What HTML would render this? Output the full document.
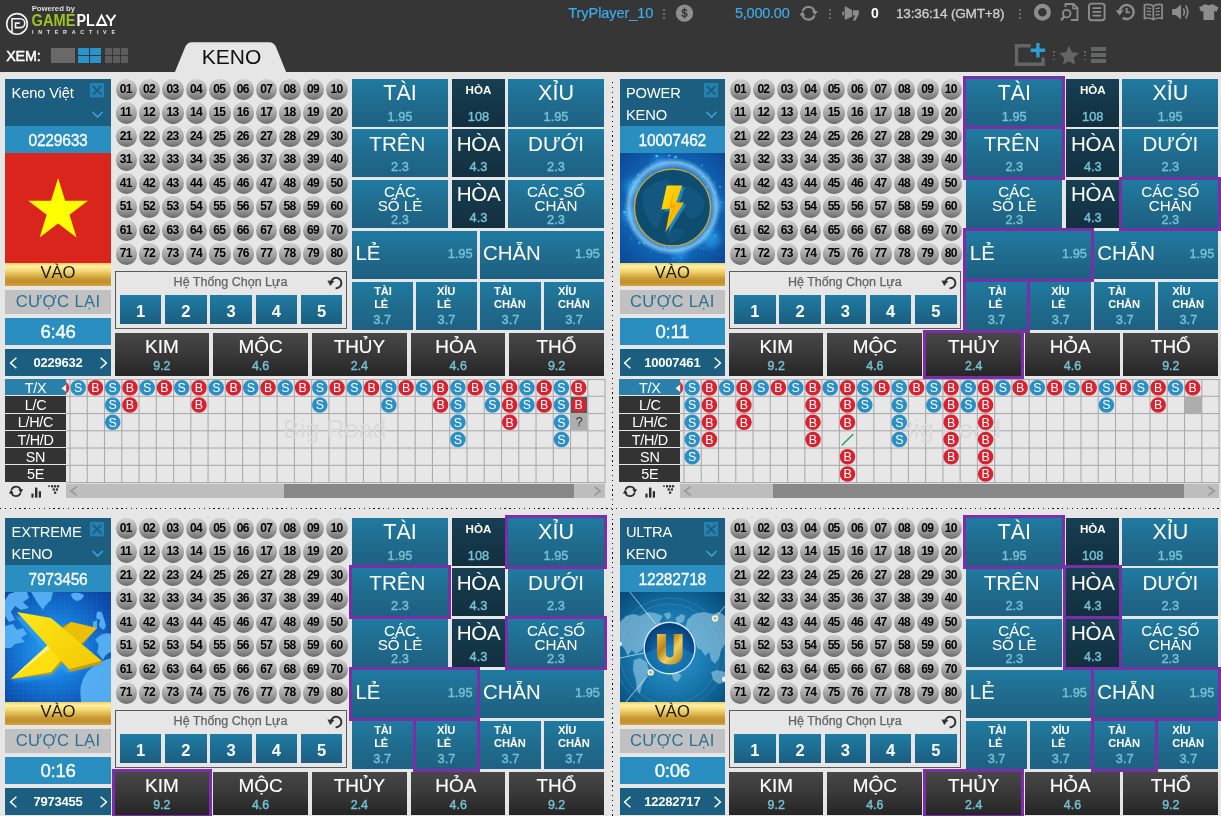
<!DOCTYPE html>
<html><head><meta charset="utf-8"><title>Keno</title><style>
*{box-sizing:border-box;margin:0;padding:0}
html,body{width:1221px;height:816px;overflow:hidden;background:#e6e6e6;font-family:"Liberation Sans",sans-serif;}
body{position:relative}
.a{position:absolute}
#hdr{position:absolute;left:0;top:0;width:1221px;height:72px;background:#363636}
.t{position:absolute;white-space:nowrap;line-height:1}
.pn{position:absolute;left:0;top:0;width:0;height:0}
.lt{background:#1b5e7f}
.nm{background:#2a8fc0;color:#fff;text-align:center}
.vao{background:linear-gradient(#f3cf5e 0%,#fdf0a8 14%,#f5d873 34%,#c99a34 68%,#c28f2c 84%,#d2a440 100%);color:#1a1a1a;text-align:center}
.cuoc{background:#c1c1c1;color:#2b7195;text-align:center}
.ball{position:absolute;width:21.4px;height:21.4px;border-radius:50%;background:radial-gradient(circle at 50% 50%,rgba(0,0,0,0) 55%,rgba(0,0,0,0.10) 100%),linear-gradient(#d4d4d4 0%,#c4c4c4 18%,#a6a6a6 52%,#858585 80%,#6c6c6c 100%);color:#000;font-weight:bold;font-size:12px;line-height:21.6px;text-align:center;letter-spacing:-0.7px;text-indent:-1.1px}
.bet{position:absolute;background:linear-gradient(#1f7ba1,#206c8e 50%,#1d6082);color:#fff;text-align:center}
.bet.dk{background:linear-gradient(#173f53,#122f3e)}
.sel{box-shadow:0 0 0 3px #7b2ea7}
.od{color:#76c1d5}
.ods{-webkit-text-stroke:0.4px #76c1d5}
.el{position:absolute;background:linear-gradient(#474747,#3a3a3a 45%,#252525);color:#fff;text-align:center}
.sb{position:absolute;background:linear-gradient(#1f7ca3,#1b5d80);color:#fff;font-weight:bold;text-align:center}
.rl{position:absolute;background:#333;color:#fff;text-align:center;font-size:14px;}
.c{position:absolute;width:15px;height:15px;border-radius:50%;color:#fff;font-size:11.5px;line-height:15px;text-align:center}
.cs{background:#2a8fc6}
.cb{background:#d9222f}
</style></head><body><div id="root" style="position:absolute;left:0;top:0;width:1221px;height:816px;overflow:hidden;will-change:transform">
<div id="hdr"></div>
<svg class="a" style="left:5px;top:3px" width="115" height="34" viewBox="0 0 115 34">
<circle cx="12" cy="20.9" r="10.3" fill="none" stroke="#f2f2f2" stroke-width="1.6"/>
<path d="M7 29 V15.8 H15.4 A4.4 4.4 0 0 1 15.4 24.6 H10.5 V20.1 H14.8" fill="none" stroke="#f2f2f2" stroke-width="1.6"/>
</svg>
<svg class="a" style="left:30px;top:0px" width="90" height="38" viewBox="0 0 90 38" font-family="Liberation Sans">
<text x="1.7" y="10.6" font-size="7.6" font-weight="bold" fill="#dedede" textLength="43.3" lengthAdjust="spacingAndGlyphs" stroke="#363636" stroke-width="0.25" paint-order="stroke">Powered by</text>
<text x="1.6" y="26.1" font-size="16" font-weight="bold" fill="#9fc41f" textLength="43.8" lengthAdjust="spacingAndGlyphs" stroke="#363636" stroke-width="0.5" paint-order="stroke">GAME</text>
<text x="46.6" y="26.1" font-size="16" font-weight="bold" fill="#fff" textLength="18.2" lengthAdjust="spacingAndGlyphs" stroke="#363636" stroke-width="0.5" paint-order="stroke">PL</text>
<path d="M67 25 L71.6 15.6 L76.2 25 Z" fill="none" stroke="#fff" stroke-width="1.9"/>
<path d="M76.4 14.8 L80.9 21 L85.4 14.8 M80.9 20.6 V26.1" fill="none" stroke="#fff" stroke-width="2"/>
<text x="2" y="33.5" font-size="5.4" font-weight="bold" fill="#e4e4e4" textLength="83" lengthAdjust="spacing">INTERACTIVE</text>
</svg>
<div class="t" style="top:49.10px;font-size:14.3px;color:#fff;left:6.20px;-webkit-text-stroke:0.45px #fff;letter-spacing:-0.1px;">XEM:</div>
<div class="a" style="left:51.00px;top:48.00px;width:23.50px;height:15.00px;background:#696969"></div>
<div class="a" style="left:78.00px;top:48.00px;width:11.20px;height:7.00px;background:#2a92cc"></div>
<div class="a" style="left:78.00px;top:55.70px;width:11.20px;height:7.00px;background:#2a92cc"></div>
<div class="a" style="left:90.00px;top:48.00px;width:11.20px;height:7.00px;background:#2a92cc"></div>
<div class="a" style="left:90.00px;top:55.70px;width:11.20px;height:7.00px;background:#2a92cc"></div>
<div class="a" style="left:105.00px;top:48.00px;width:7.30px;height:7.00px;background:#5c5c5c"></div>
<div class="a" style="left:105.00px;top:55.70px;width:7.30px;height:7.00px;background:#5c5c5c"></div>
<div class="a" style="left:113.00px;top:48.00px;width:7.30px;height:7.00px;background:#5c5c5c"></div>
<div class="a" style="left:113.00px;top:55.70px;width:7.30px;height:7.00px;background:#5c5c5c"></div>
<div class="a" style="left:121.00px;top:48.00px;width:7.30px;height:7.00px;background:#5c5c5c"></div>
<div class="a" style="left:121.00px;top:55.70px;width:7.30px;height:7.00px;background:#5c5c5c"></div>
<svg class="a" style="left:170px;top:40px" width="122" height="33" viewBox="0 0 122 33"><path d="M4.5 33 L15.2 7 Q17.2 2.3 22 2.3 L99 2.3 Q104 2.3 106 7 L116.5 33 Z" fill="#e6e6e6"/></svg>
<div class="t" style="top:45.92px;font-size:21px;color:#111;left:31.50px;width:400px;text-align:center;">KENO</div>
<div class="t" style="top:6.03px;font-size:14.5px;color:#3cacea;left:568.30px;letter-spacing:-0.05px;-webkit-text-stroke:0.2px #3cacea;">TryPlayer_10</div>
<div class="a" style="left:663.20px;top:9.30px;width:1.70px;height:1.70px;background:#6a6a6a"></div>
<div class="a" style="left:663.20px;top:13.10px;width:1.70px;height:1.70px;background:#6a6a6a"></div>
<div class="a" style="left:663.20px;top:16.90px;width:1.70px;height:1.70px;background:#6a6a6a"></div>
<svg class="a" style="left:675px;top:4px" width="19" height="19" viewBox="0 0 19 19"><circle cx="9.5" cy="9.2" r="8.6" fill="#8e8e8e"/><text x="9.5" y="13.2" font-family="Liberation Sans" font-weight="bold" font-size="10.5" fill="#363636" text-anchor="middle">S</text><path d="M9.5 3.6 V14.8" stroke="#363636" stroke-width="1.1"/></svg>
<div class="t" style="top:6.03px;font-size:14.5px;color:#3cacea;left:735.00px;letter-spacing:-0.25px;-webkit-text-stroke:0.2px #3cacea;">5,000.00</div>
<svg class="a" style="left:800px;top:5px" width="18" height="17" viewBox="0 0 18 17"><path d="M2.68 6.15 A6.3 6.3 0 0 1 14.76 6.99" fill="none" stroke="#8f8f8f" stroke-width="2.2"/><path d="M14.52 10.45 A6.3 6.3 0 0 1 2.44 9.61" fill="none" stroke="#8f8f8f" stroke-width="2.2"/><path d="M11.90 6.10 L17.90 6.10 L14.90 10.10 Z" fill="#8f8f8f"/><path d="M-0.70 10.50 L5.30 10.50 L2.30 6.50 Z" fill="#8f8f8f"/></svg>
<div class="a" style="left:828.90px;top:9.30px;width:1.70px;height:1.70px;background:#6a6a6a"></div>
<div class="a" style="left:828.90px;top:13.10px;width:1.70px;height:1.70px;background:#6a6a6a"></div>
<div class="a" style="left:828.90px;top:16.90px;width:1.70px;height:1.70px;background:#6a6a6a"></div>
<svg class="a" style="left:842px;top:5px" width="19" height="17" viewBox="0 0 19 17"><path d="M0.3 6.5 H2 V10.2 H0.3 Z M2.7 1.1 V15.1 L10.2 11.4 V5.2 Z M11 5.2 H16.8 V8.9 L13.5 15.5 H10.7 L13.2 10.6 H11 Z" fill="#8c8c8c"/></svg>
<div class="t" style="top:6.35px;font-size:14px;color:#fff;font-weight:bold;left:871.00px;">0</div>
<div class="t" style="top:6.69px;font-size:13.6px;color:#cfcfcf;left:896.00px;letter-spacing:-0.2px;-webkit-text-stroke:0.3px #cfcfcf;">13:36:14 (GMT+8)</div>
<div class="a" style="left:1019.20px;top:9.30px;width:1.70px;height:1.70px;background:#6a6a6a"></div>
<div class="a" style="left:1019.20px;top:13.10px;width:1.70px;height:1.70px;background:#6a6a6a"></div>
<div class="a" style="left:1019.20px;top:16.90px;width:1.70px;height:1.70px;background:#6a6a6a"></div>
<svg class="a" style="left:1033px;top:3.2px" width="19" height="19" viewBox="0 0 19 19"><circle cx="9.4" cy="9.3" r="6.4" fill="none" stroke="#8d8d8d" stroke-width="4.2"/></svg>
<svg class="a" style="left:1060px;top:2.3px" width="20" height="20" viewBox="0 0 20 20"><path d="M5.5 5 V2 H13.5 L17.5 6 V18 H11" fill="none" stroke="#8d8d8d" stroke-width="1.8"/><path d="M13 2 V6.5 H17.5" fill="none" stroke="#8d8d8d" stroke-width="1.5"/><circle cx="6.7" cy="11.6" r="3.8" fill="none" stroke="#8d8d8d" stroke-width="1.8"/><path d="M4.2 14.4 L1.2 18.2" stroke="#8d8d8d" stroke-width="2.2"/></svg>
<svg class="a" style="left:1087px;top:2.3px" width="20" height="20" viewBox="0 0 20 20"><rect x="2" y="1.6" width="15.6" height="16.6" rx="2.4" fill="none" stroke="#8d8d8d" stroke-width="1.9"/><path d="M5.5 6.2 H14.2 M5.5 9.9 H14.2 M5.5 13.6 H14.2" stroke="#8d8d8d" stroke-width="1.7"/></svg>
<svg class="a" style="left:1115px;top:2.3px" width="21" height="20" viewBox="0 0 21 20"><path d="M4.7 10 A7 7 0 1 1 7.6 15.7" fill="none" stroke="#8d8d8d" stroke-width="2.4"/><path d="M0.6 8.2 L8.6 8.2 L4.6 13.4 Z" fill="#8d8d8d"/><path d="M11.6 6 V10.4 H15" fill="none" stroke="#8d8d8d" stroke-width="1.9"/></svg>
<svg class="a" style="left:1143px;top:2.3px" width="21" height="20" viewBox="0 0 21 20"><path d="M10.3 4 Q6 1.6 1.5 2.8 V16.4 Q6 15.2 10.3 17.6 Q14.6 15.2 19.1 16.4 V2.8 Q14.6 1.6 10.3 4 Z M10.3 4 V17.6" fill="none" stroke="#8d8d8d" stroke-width="1.7"/><path d="M3.8 6.2 Q6 5.8 8 6.8 M3.8 9.4 Q6 9 8 10 M3.8 12.6 Q6 12.2 8 13.2 M12.6 6.8 Q14.6 5.8 16.8 6.2 M12.6 10 Q14.6 9 16.8 9.4 M12.6 13.2 Q14.6 12.2 16.8 12.6" fill="none" stroke="#8d8d8d" stroke-width="1.3"/></svg>
<svg class="a" style="left:1171px;top:2.3px" width="20" height="20" viewBox="0 0 20 20"><path d="M1.2 7 H4.8 L10 2.6 V17.4 L4.8 13 H1.2 Z" fill="#8d8d8d"/><path d="M12.2 6.4 Q14.6 10 12.2 13.6" fill="none" stroke="#8d8d8d" stroke-width="1.7"/><path d="M14.6 3.6 Q19 10 14.6 16.4" fill="none" stroke="#8d8d8d" stroke-width="1.7"/></svg>
<svg class="a" style="left:1198px;top:2.3px" width="22" height="20" viewBox="0 0 22 20"><path d="M7.4 2 Q10.8 4.6 14.2 2 L20.6 5.4 L18.4 9.8 L16.2 8.8 V18 H5.4 V8.8 L3.2 9.8 L1 5.4 Z" fill="#8d8d8d"/></svg>
<svg class="a" style="left:1014px;top:42px" width="33" height="25" viewBox="0 0 33 25"><path d="M16.75 3.8 H2.5 V22.3 H29.1 V15.6" fill="none" stroke="#646665" stroke-width="3.4"/><path d="M23.9 1 V15.5 M16.7 8.25 H31.1" stroke="#2c9fd6" stroke-width="3.3"/></svg>
<div class="a" style="left:1053.00px;top:51.00px;width:1.70px;height:1.70px;background:#666"></div>
<div class="a" style="left:1053.00px;top:54.80px;width:1.70px;height:1.70px;background:#666"></div>
<div class="a" style="left:1053.00px;top:58.60px;width:1.70px;height:1.70px;background:#666"></div>
<svg class="a" style="left:1058px;top:45px" width="22" height="20" viewBox="0 0 22 20"><path d="M11 0.8 L13.9 7.2 L20.9 8 L15.7 12.8 L17.1 19.6 L11 16.2 L4.9 19.6 L6.3 12.8 L1.1 8 L8.1 7.2 Z" fill="#646665"/></svg>
<div class="a" style="left:1083.90px;top:51.00px;width:1.70px;height:1.70px;background:#666"></div>
<div class="a" style="left:1083.90px;top:54.80px;width:1.70px;height:1.70px;background:#666"></div>
<div class="a" style="left:1083.90px;top:58.60px;width:1.70px;height:1.70px;background:#666"></div>
<div class="a" style="left:1091.20px;top:47.30px;width:15.00px;height:3.60px;background:#646665"></div>
<div class="a" style="left:1091.20px;top:53.20px;width:15.00px;height:3.60px;background:#646665"></div>
<div class="a" style="left:1091.20px;top:59.10px;width:15.00px;height:3.60px;background:#646665"></div>
<div class="a" style="left:0;top:507.7px;width:1221px;height:1.3px;background:repeating-linear-gradient(90deg,#111 0,#111 1.3px,transparent 1.3px,transparent 4.85px)"></div>
<div class="a" style="left:611.8px;top:81.5px;width:1.3px;height:740px;background:repeating-linear-gradient(180deg,#111 0,#111 1.3px,transparent 1.3px,transparent 4.85px)"></div>
<div class="pn" style="left:0px;top:0px">
<div class="a lt" style="left:5.00px;top:78.60px;width:105.60px;height:49.00px;"></div>
<div class="t" style="top:85.66px;font-size:14.7px;color:#fff;left:11.60px;letter-spacing:-0.15px;">Keno Việt</div>
<svg class="a" style="left:89.7px;top:83.3px" width="15" height="15" viewBox="0 0 15 15"><rect width="14" height="14.4" fill="#2681b0"/><path d="M2.8 3 L11.4 11.6 M11.4 3 L2.8 11.6" stroke="#1b5e7f" stroke-width="1.9"/></svg>
<svg class="a" style="left:91.5px;top:111px" width="12" height="8" viewBox="0 0 12 8"><path d="M0.6 1 L5.6 6 L10.6 1" fill="none" stroke="#3ba3dc" stroke-width="1.6"/></svg>
<div class="a nm" style="left:5.00px;top:126.20px;width:105.60px;height:27.30px;"></div>
<div class="t" style="top:132.79px;font-size:15.6px;color:#fff;left:-142.00px;width:400px;text-align:center;letter-spacing:-0.25px;-webkit-text-stroke:0.3px #fff;">0229633</div>
<svg class="a" style="left:5px;top:153px" width="106" height="110" viewBox="0 0 106 110"><rect width="106" height="110" fill="#da251d"/><polygon points="53.10,24.96 60.15,47.72 82.96,47.72 64.51,61.79 71.56,84.55 53.10,70.48 34.64,84.55 41.69,61.79 23.24,47.72 46.05,47.72" fill="#ffff00"/></svg>
<div class="a vao" style="left:5.00px;top:262.50px;width:105.60px;height:23.00px;"></div>
<div class="t" style="top:264.95px;font-size:16.6px;color:#1a1a1a;left:-142.00px;width:400px;text-align:center;">VÀO</div>
<div class="a cuoc" style="left:5.00px;top:290.00px;width:105.60px;height:23.50px;"></div>
<div class="t" style="top:293.55px;font-size:16.6px;color:#2b7195;left:-142.00px;width:400px;text-align:center;letter-spacing:0.35px;">CƯỢC LẠI</div>
<div class="a nm" style="left:5.00px;top:318.00px;width:105.60px;height:26.50px;"></div>
<div class="t" style="top:323.36px;font-size:18.6px;color:#fff;left:-142.00px;width:400px;text-align:center;letter-spacing:-0.3px;-webkit-text-stroke:0.35px #fff;">6:46</div>
<div class="a lt" style="left:5.00px;top:349.00px;width:105.60px;height:26.50px;"></div>
<div class="t" style="top:356.30px;font-size:13px;color:#fff;font-weight:bold;left:-142.00px;width:400px;text-align:center;letter-spacing:-0.2px;">0229632</div>
<svg class="a" style="left:9px;top:357px" width="9" height="12" viewBox="0 0 9 12"><path d="M7.4 0.8 L1.6 6 L7.4 11.2" fill="none" stroke="#fff" stroke-width="1.5"/></svg>
<svg class="a" style="left:98.5px;top:357px" width="9" height="12" viewBox="0 0 9 12"><path d="M1.6 0.8 L7.4 6 L1.6 11.2" fill="none" stroke="#fff" stroke-width="1.5"/></svg>
<div class="ball" style="left:115.50px;top:78.80px">01</div>
<div class="ball" style="left:138.92px;top:78.80px">02</div>
<div class="ball" style="left:162.34px;top:78.80px">03</div>
<div class="ball" style="left:185.76px;top:78.80px">04</div>
<div class="ball" style="left:209.18px;top:78.80px">05</div>
<div class="ball" style="left:232.60px;top:78.80px">06</div>
<div class="ball" style="left:256.02px;top:78.80px">07</div>
<div class="ball" style="left:279.44px;top:78.80px">08</div>
<div class="ball" style="left:302.86px;top:78.80px">09</div>
<div class="ball" style="left:326.28px;top:78.80px">10</div>
<div class="ball" style="left:115.50px;top:102.30px">11</div>
<div class="ball" style="left:138.92px;top:102.30px">12</div>
<div class="ball" style="left:162.34px;top:102.30px">13</div>
<div class="ball" style="left:185.76px;top:102.30px">14</div>
<div class="ball" style="left:209.18px;top:102.30px">15</div>
<div class="ball" style="left:232.60px;top:102.30px">16</div>
<div class="ball" style="left:256.02px;top:102.30px">17</div>
<div class="ball" style="left:279.44px;top:102.30px">18</div>
<div class="ball" style="left:302.86px;top:102.30px">19</div>
<div class="ball" style="left:326.28px;top:102.30px">20</div>
<div class="ball" style="left:115.50px;top:125.80px">21</div>
<div class="ball" style="left:138.92px;top:125.80px">22</div>
<div class="ball" style="left:162.34px;top:125.80px">23</div>
<div class="ball" style="left:185.76px;top:125.80px">24</div>
<div class="ball" style="left:209.18px;top:125.80px">25</div>
<div class="ball" style="left:232.60px;top:125.80px">26</div>
<div class="ball" style="left:256.02px;top:125.80px">27</div>
<div class="ball" style="left:279.44px;top:125.80px">28</div>
<div class="ball" style="left:302.86px;top:125.80px">29</div>
<div class="ball" style="left:326.28px;top:125.80px">30</div>
<div class="ball" style="left:115.50px;top:149.30px">31</div>
<div class="ball" style="left:138.92px;top:149.30px">32</div>
<div class="ball" style="left:162.34px;top:149.30px">33</div>
<div class="ball" style="left:185.76px;top:149.30px">34</div>
<div class="ball" style="left:209.18px;top:149.30px">35</div>
<div class="ball" style="left:232.60px;top:149.30px">36</div>
<div class="ball" style="left:256.02px;top:149.30px">37</div>
<div class="ball" style="left:279.44px;top:149.30px">38</div>
<div class="ball" style="left:302.86px;top:149.30px">39</div>
<div class="ball" style="left:326.28px;top:149.30px">40</div>
<div class="ball" style="left:115.50px;top:172.80px">41</div>
<div class="ball" style="left:138.92px;top:172.80px">42</div>
<div class="ball" style="left:162.34px;top:172.80px">43</div>
<div class="ball" style="left:185.76px;top:172.80px">44</div>
<div class="ball" style="left:209.18px;top:172.80px">45</div>
<div class="ball" style="left:232.60px;top:172.80px">46</div>
<div class="ball" style="left:256.02px;top:172.80px">47</div>
<div class="ball" style="left:279.44px;top:172.80px">48</div>
<div class="ball" style="left:302.86px;top:172.80px">49</div>
<div class="ball" style="left:326.28px;top:172.80px">50</div>
<div class="ball" style="left:115.50px;top:196.30px">51</div>
<div class="ball" style="left:138.92px;top:196.30px">52</div>
<div class="ball" style="left:162.34px;top:196.30px">53</div>
<div class="ball" style="left:185.76px;top:196.30px">54</div>
<div class="ball" style="left:209.18px;top:196.30px">55</div>
<div class="ball" style="left:232.60px;top:196.30px">56</div>
<div class="ball" style="left:256.02px;top:196.30px">57</div>
<div class="ball" style="left:279.44px;top:196.30px">58</div>
<div class="ball" style="left:302.86px;top:196.30px">59</div>
<div class="ball" style="left:326.28px;top:196.30px">60</div>
<div class="ball" style="left:115.50px;top:219.80px">61</div>
<div class="ball" style="left:138.92px;top:219.80px">62</div>
<div class="ball" style="left:162.34px;top:219.80px">63</div>
<div class="ball" style="left:185.76px;top:219.80px">64</div>
<div class="ball" style="left:209.18px;top:219.80px">65</div>
<div class="ball" style="left:232.60px;top:219.80px">66</div>
<div class="ball" style="left:256.02px;top:219.80px">67</div>
<div class="ball" style="left:279.44px;top:219.80px">68</div>
<div class="ball" style="left:302.86px;top:219.80px">69</div>
<div class="ball" style="left:326.28px;top:219.80px">70</div>
<div class="ball" style="left:115.50px;top:243.30px">71</div>
<div class="ball" style="left:138.92px;top:243.30px">72</div>
<div class="ball" style="left:162.34px;top:243.30px">73</div>
<div class="ball" style="left:185.76px;top:243.30px">74</div>
<div class="ball" style="left:209.18px;top:243.30px">75</div>
<div class="ball" style="left:232.60px;top:243.30px">76</div>
<div class="ball" style="left:256.02px;top:243.30px">77</div>
<div class="ball" style="left:279.44px;top:243.30px">78</div>
<div class="ball" style="left:302.86px;top:243.30px">79</div>
<div class="ball" style="left:326.28px;top:243.30px">80</div>
<div class="a" style="left:115.00px;top:271.00px;width:232.00px;height:57.50px;border:1px solid #5a5a5a;"></div>
<div class="t" style="top:275.62px;font-size:12.5px;color:#636363;left:30.50px;width:400px;text-align:center;-webkit-text-stroke:0.25px #636363;">Hệ Thống Chọn Lựa</div>
<svg class="a" style="left:327px;top:275.5px" width="16" height="14" viewBox="0 0 16 14"><path d="M4 6.6 A5.2 5.2 0 1 1 8.6 12.2" fill="none" stroke="#333" stroke-width="2"/><path d="M0.4 4.6 L7.4 5 L3.2 10 Z" fill="#333"/></svg>
<div class="sb" style="left:119.80px;top:295.00px;width:41.60px;height:29.00px;"></div>
<div class="t" style="top:303.23px;font-size:16.5px;color:#fff;font-weight:bold;left:-59.40px;width:400px;text-align:center;">1</div>
<div class="sb" style="left:165.05px;top:295.00px;width:41.60px;height:29.00px;"></div>
<div class="t" style="top:303.23px;font-size:16.5px;color:#fff;font-weight:bold;left:-14.15px;width:400px;text-align:center;">2</div>
<div class="sb" style="left:210.30px;top:295.00px;width:41.60px;height:29.00px;"></div>
<div class="t" style="top:303.23px;font-size:16.5px;color:#fff;font-weight:bold;left:31.10px;width:400px;text-align:center;">3</div>
<div class="sb" style="left:255.55px;top:295.00px;width:41.60px;height:29.00px;"></div>
<div class="t" style="top:303.23px;font-size:16.5px;color:#fff;font-weight:bold;left:76.35px;width:400px;text-align:center;">4</div>
<div class="sb" style="left:300.80px;top:295.00px;width:41.60px;height:29.00px;"></div>
<div class="t" style="top:303.23px;font-size:16.5px;color:#fff;font-weight:bold;left:121.60px;width:400px;text-align:center;">5</div>
<div class="bet" style="left:352.00px;top:79.00px;width:96.00px;height:47.50px;"></div>
<div class="t" style="top:82.80px;font-size:21.5px;color:#fff;left:200.00px;width:400px;text-align:center;z-index:3;">TÀI</div>
<div class="t ods" style="top:110.76px;font-size:12.8px;color:#76c1d5;left:200.00px;width:400px;text-align:center;z-index:3;">1.95</div>
<div class="bet dk" style="left:451.70px;top:79.00px;width:53.00px;height:47.50px;"></div>
<div class="t" style="top:83.58px;font-size:11.6px;color:#fff;font-weight:bold;left:278.50px;width:400px;text-align:center;z-index:3;">HÒA</div>
<div class="t ods" style="top:110.76px;font-size:12.8px;color:#76c1d5;left:278.50px;width:400px;text-align:center;z-index:3;">108</div>
<div class="bet" style="left:508.00px;top:79.00px;width:96.00px;height:47.50px;"></div>
<div class="t" style="top:82.80px;font-size:21.5px;color:#fff;left:356.00px;width:400px;text-align:center;z-index:3;">XỈU</div>
<div class="t ods" style="top:110.76px;font-size:12.8px;color:#76c1d5;left:356.00px;width:400px;text-align:center;z-index:3;">1.95</div>
<div class="bet" style="left:352.00px;top:129.30px;width:96.00px;height:47.50px;"></div>
<div class="t" style="top:133.66px;font-size:20.6px;color:#fff;left:197.40px;width:400px;text-align:center;z-index:3;">TRÊN</div>
<div class="t ods" style="top:161.06px;font-size:12.8px;color:#76c1d5;left:200.00px;width:400px;text-align:center;z-index:3;">2.3</div>
<div class="bet dk" style="left:451.70px;top:129.30px;width:53.00px;height:47.50px;"></div>
<div class="t" style="top:133.66px;font-size:20.6px;color:#fff;left:278.50px;width:400px;text-align:center;z-index:3;letter-spacing:-0.3px;">HÒA</div>
<div class="t ods" style="top:161.06px;font-size:12.8px;color:#76c1d5;left:278.50px;width:400px;text-align:center;z-index:3;">4.3</div>
<div class="bet" style="left:508.00px;top:129.30px;width:96.00px;height:47.50px;"></div>
<div class="t" style="top:133.66px;font-size:20.6px;color:#fff;left:356.00px;width:400px;text-align:center;z-index:3;">DƯỚI</div>
<div class="t ods" style="top:161.06px;font-size:12.8px;color:#76c1d5;left:356.00px;width:400px;text-align:center;z-index:3;">2.3</div>
<div class="bet" style="left:352.00px;top:180.00px;width:96.00px;height:47.50px;"></div>
<div class="t" style="top:184.13px;font-size:15.2px;color:#fff;left:200.00px;width:400px;text-align:center;z-index:3;">CÁC</div>
<div class="t" style="top:198.13px;font-size:15.2px;color:#fff;left:200.00px;width:400px;text-align:center;z-index:3;">SỐ LẺ</div>
<div class="t ods" style="top:214.16px;font-size:12.8px;color:#76c1d5;left:200.00px;width:400px;text-align:center;z-index:3;">2.3</div>
<div class="bet dk" style="left:451.70px;top:180.00px;width:53.00px;height:47.50px;"></div>
<div class="t" style="top:184.36px;font-size:20.6px;color:#fff;left:278.50px;width:400px;text-align:center;z-index:3;letter-spacing:-0.3px;">HÒA</div>
<div class="t ods" style="top:211.76px;font-size:12.8px;color:#76c1d5;left:278.50px;width:400px;text-align:center;z-index:3;">4.3</div>
<div class="bet" style="left:508.00px;top:180.00px;width:96.00px;height:47.50px;"></div>
<div class="t" style="top:184.13px;font-size:15.2px;color:#fff;left:356.00px;width:400px;text-align:center;z-index:3;">CÁC SỐ</div>
<div class="t" style="top:198.13px;font-size:15.2px;color:#fff;left:356.00px;width:400px;text-align:center;z-index:3;">CHẴN</div>
<div class="t ods" style="top:214.16px;font-size:12.8px;color:#76c1d5;left:356.00px;width:400px;text-align:center;z-index:3;">2.3</div>
<div class="bet" style="left:352.00px;top:231.00px;width:124.50px;height:47.50px;"></div>
<div class="t" style="top:242.73px;font-size:20.4px;color:#fff;left:355.50px;z-index:3;">LẺ</div>
<div class="t ods" style="top:247.76px;font-size:12.8px;color:#76c1d5;left:72.60px;width:400px;text-align:right;z-index:3;">1.95</div>
<div class="bet" style="left:480.20px;top:231.00px;width:123.80px;height:47.50px;"></div>
<div class="t" style="top:242.73px;font-size:20.4px;color:#fff;left:483.00px;z-index:3;">CHẴN</div>
<div class="t ods" style="top:247.76px;font-size:12.8px;color:#76c1d5;left:200.00px;width:400px;text-align:right;z-index:3;">1.95</div>
<div class="bet" style="left:352.00px;top:282.00px;width:60.50px;height:47.50px;"></div>
<div class="t" style="top:286.32px;font-size:11.2px;color:#fff;font-weight:bold;left:374.20px;z-index:3;letter-spacing:-0.2px;">TÀI</div>
<div class="t" style="top:299.12px;font-size:11.2px;color:#fff;font-weight:bold;left:374.20px;z-index:3;letter-spacing:-0.2px;">LẺ</div>
<div class="t ods" style="top:314.16px;font-size:12.8px;color:#76c1d5;left:182.25px;width:400px;text-align:center;z-index:3;">3.7</div>
<div class="bet" style="left:416.20px;top:282.00px;width:60.50px;height:47.50px;"></div>
<div class="t" style="top:286.32px;font-size:11.2px;color:#fff;font-weight:bold;left:437.00px;z-index:3;letter-spacing:-0.2px;">XỈU</div>
<div class="t" style="top:299.12px;font-size:11.2px;color:#fff;font-weight:bold;left:437.00px;z-index:3;letter-spacing:-0.2px;">LẺ</div>
<div class="t ods" style="top:314.16px;font-size:12.8px;color:#76c1d5;left:246.45px;width:400px;text-align:center;z-index:3;">3.7</div>
<div class="bet" style="left:480.20px;top:282.00px;width:60.50px;height:47.50px;"></div>
<div class="t" style="top:286.32px;font-size:11.2px;color:#fff;font-weight:bold;left:494.00px;z-index:3;letter-spacing:-0.2px;">TÀI</div>
<div class="t" style="top:299.12px;font-size:11.2px;color:#fff;font-weight:bold;left:494.00px;z-index:3;letter-spacing:-0.2px;">CHẴN</div>
<div class="t ods" style="top:314.16px;font-size:12.8px;color:#76c1d5;left:310.45px;width:400px;text-align:center;z-index:3;">3.7</div>
<div class="bet" style="left:544.20px;top:282.00px;width:59.80px;height:47.50px;"></div>
<div class="t" style="top:286.32px;font-size:11.2px;color:#fff;font-weight:bold;left:558.00px;z-index:3;letter-spacing:-0.2px;">XỈU</div>
<div class="t" style="top:299.12px;font-size:11.2px;color:#fff;font-weight:bold;left:558.00px;z-index:3;letter-spacing:-0.2px;">CHẴN</div>
<div class="t ods" style="top:314.16px;font-size:12.8px;color:#76c1d5;left:374.10px;width:400px;text-align:center;z-index:3;">3.7</div>
<div class="el" style="left:115.00px;top:333.00px;width:93.80px;height:42.60px;"></div>
<div class="t" style="top:337.60px;font-size:18.9px;color:#fff;left:-38.10px;width:400px;text-align:center;z-index:3;-webkit-text-stroke:0.15px #fff;">KIM</div>
<div class="t ods" style="top:359.90px;font-size:12.4px;color:#76c1d5;left:-38.10px;width:400px;text-align:center;z-index:3;">9.2</div>
<div class="el" style="left:213.20px;top:333.00px;width:94.60px;height:42.60px;"></div>
<div class="t" style="top:337.60px;font-size:18.9px;color:#fff;left:60.50px;width:400px;text-align:center;z-index:3;-webkit-text-stroke:0.15px #fff;">MỘC</div>
<div class="t ods" style="top:359.90px;font-size:12.4px;color:#76c1d5;left:60.50px;width:400px;text-align:center;z-index:3;">4.6</div>
<div class="el" style="left:312.20px;top:333.00px;width:94.40px;height:42.60px;"></div>
<div class="t" style="top:337.60px;font-size:18.9px;color:#fff;left:159.40px;width:400px;text-align:center;z-index:3;-webkit-text-stroke:0.15px #fff;">THỦY</div>
<div class="t ods" style="top:359.90px;font-size:12.4px;color:#76c1d5;left:159.40px;width:400px;text-align:center;z-index:3;">2.4</div>
<div class="el" style="left:410.90px;top:333.00px;width:94.60px;height:42.60px;"></div>
<div class="t" style="top:337.60px;font-size:18.9px;color:#fff;left:255.80px;width:400px;text-align:center;z-index:3;-webkit-text-stroke:0.15px #fff;">HỎA</div>
<div class="t ods" style="top:359.90px;font-size:12.4px;color:#76c1d5;left:258.20px;width:400px;text-align:center;z-index:3;">4.6</div>
<div class="el" style="left:509.20px;top:333.00px;width:94.60px;height:42.60px;"></div>
<div class="t" style="top:337.60px;font-size:18.9px;color:#fff;left:356.50px;width:400px;text-align:center;z-index:3;-webkit-text-stroke:0.15px #fff;">THỔ</div>
<div class="t ods" style="top:359.90px;font-size:12.4px;color:#76c1d5;left:356.50px;width:400px;text-align:center;z-index:3;">9.2</div>
<div class="a" style="left:66px;top:379.1px;width:539.2px;height:104.4px;overflow:hidden;background:#e7e7e7"></div>
<svg class="a" style="left:66px;top:379.1px" width="539.6" height="104.6" shape-rendering="auto"><rect x="3.45" y="0" width="1.1" height="104.16" fill="#ababab"/><rect x="20.71" y="0" width="1.1" height="104.16" fill="#ababab"/><rect x="37.97" y="0" width="1.1" height="104.16" fill="#ababab"/><rect x="55.23" y="0" width="1.1" height="104.16" fill="#ababab"/><rect x="72.49" y="0" width="1.1" height="104.16" fill="#ababab"/><rect x="89.75" y="0" width="1.1" height="104.16" fill="#ababab"/><rect x="107.01" y="0" width="1.1" height="104.16" fill="#ababab"/><rect x="124.27" y="0" width="1.1" height="104.16" fill="#ababab"/><rect x="141.53" y="0" width="1.1" height="104.16" fill="#ababab"/><rect x="158.79" y="0" width="1.1" height="104.16" fill="#ababab"/><rect x="176.05" y="0" width="1.1" height="104.16" fill="#ababab"/><rect x="193.31" y="0" width="1.1" height="104.16" fill="#ababab"/><rect x="210.57" y="0" width="1.1" height="104.16" fill="#ababab"/><rect x="227.83" y="0" width="1.1" height="104.16" fill="#ababab"/><rect x="245.09" y="0" width="1.1" height="104.16" fill="#ababab"/><rect x="262.35" y="0" width="1.1" height="104.16" fill="#ababab"/><rect x="279.61" y="0" width="1.1" height="104.16" fill="#ababab"/><rect x="296.87" y="0" width="1.1" height="104.16" fill="#ababab"/><rect x="314.13" y="0" width="1.1" height="104.16" fill="#ababab"/><rect x="331.39" y="0" width="1.1" height="104.16" fill="#ababab"/><rect x="348.65" y="0" width="1.1" height="104.16" fill="#ababab"/><rect x="365.91" y="0" width="1.1" height="104.16" fill="#ababab"/><rect x="383.17" y="0" width="1.1" height="104.16" fill="#ababab"/><rect x="400.43" y="0" width="1.1" height="104.16" fill="#ababab"/><rect x="417.69" y="0" width="1.1" height="104.16" fill="#ababab"/><rect x="434.95" y="0" width="1.1" height="104.16" fill="#ababab"/><rect x="452.21" y="0" width="1.1" height="104.16" fill="#ababab"/><rect x="469.47" y="0" width="1.1" height="104.16" fill="#ababab"/><rect x="486.73" y="0" width="1.1" height="104.16" fill="#ababab"/><rect x="503.99" y="0" width="1.1" height="104.16" fill="#ababab"/><rect x="521.25" y="0" width="1.1" height="104.16" fill="#ababab"/><rect x="538.51" y="0" width="1.1" height="104.16" fill="#ababab"/><rect x="0" y="0.00" width="539.20" height="1.1" fill="#ababab"/><rect x="0" y="16.71" width="539.20" height="1.1" fill="#ababab"/><rect x="0" y="33.97" width="539.20" height="1.1" fill="#ababab"/><rect x="0" y="51.23" width="539.20" height="1.1" fill="#ababab"/><rect x="0" y="68.49" width="539.20" height="1.1" fill="#ababab"/><rect x="0" y="85.75" width="539.20" height="1.1" fill="#ababab"/><rect x="0" y="103.01" width="539.20" height="1.1" fill="#ababab"/></svg>
<div class="t" style="top:417.07px;font-size:25.2px;color:#dadada;left:134.80px;width:400px;text-align:center;">Big Road</div>
<div class="rl" style="left:5.00px;top:379.10px;width:61.00px;height:16.20px;background:#2980aa;"></div>
<div class="t" style="top:380.91px;font-size:14.4px;color:#fff;left:-164.50px;width:400px;text-align:center;letter-spacing:-0.3px;">T/X</div>
<div class="rl" style="left:5.00px;top:396.36px;width:61.00px;height:16.20px;"></div>
<div class="t" style="top:398.17px;font-size:14.4px;color:#fff;left:-164.50px;width:400px;text-align:center;letter-spacing:-0.3px;">L/C</div>
<div class="rl" style="left:5.00px;top:413.62px;width:61.00px;height:16.20px;"></div>
<div class="t" style="top:415.43px;font-size:14.4px;color:#fff;left:-164.50px;width:400px;text-align:center;letter-spacing:-0.3px;">L/H/C</div>
<div class="rl" style="left:5.00px;top:430.88px;width:61.00px;height:16.20px;"></div>
<div class="t" style="top:432.69px;font-size:14.4px;color:#fff;left:-164.50px;width:400px;text-align:center;letter-spacing:-0.3px;">T/H/D</div>
<div class="rl" style="left:5.00px;top:448.14px;width:61.00px;height:16.20px;"></div>
<div class="t" style="top:449.95px;font-size:14.4px;color:#fff;left:-164.50px;width:400px;text-align:center;letter-spacing:-0.3px;">SN</div>
<div class="rl" style="left:5.00px;top:465.40px;width:61.00px;height:16.20px;"></div>
<div class="t" style="top:467.21px;font-size:14.4px;color:#fff;left:-164.50px;width:400px;text-align:center;letter-spacing:-0.3px;">5E</div>
<svg class="a" style="left:60.8px;top:383.5px" width="6" height="9" viewBox="0 0 6 9"><path d="M5.4 0.5 L0.5 4.3 L5.4 8.1 Z" fill="#fff"/></svg>
<div class="a" style="left:571.04px;top:396.96px;width:16.26px;height:16.26px;background:#585858"></div>
<div class="a" style="left:571.04px;top:414.22px;width:16.26px;height:16.26px;background:#adadad"></div>
<div class="t" style="top:416.24px;font-size:12.5px;color:#333;left:379.17px;width:400px;text-align:center;">?</div>
<svg class="a" style="left:0;top:379.1px" width="610" height="105.6" font-family="Liberation Sans" font-size="12.4" text-anchor="middle" fill="#fff"><clipPath id="cp00"><rect x="66.2" y="0" width="3.40" height="18"/></clipPath><circle cx="61.37" cy="8.73" r="7.75" fill="#d9222f" clip-path="url(#cp00)"/><circle cx="78.18" cy="8.73" r="7.75" fill="#2a8fc6"/><text x="78.18" y="13.18">S</text><circle cx="95.44" cy="8.73" r="7.75" fill="#d9222f"/><text x="95.44" y="13.18">B</text><circle cx="112.70" cy="8.73" r="7.75" fill="#2a8fc6"/><text x="112.70" y="13.18">S</text><circle cx="129.96" cy="8.73" r="7.75" fill="#d9222f"/><text x="129.96" y="13.18">B</text><circle cx="147.22" cy="8.73" r="7.75" fill="#2a8fc6"/><text x="147.22" y="13.18">S</text><circle cx="164.48" cy="8.73" r="7.75" fill="#d9222f"/><text x="164.48" y="13.18">B</text><circle cx="181.74" cy="8.73" r="7.75" fill="#2a8fc6"/><text x="181.74" y="13.18">S</text><circle cx="199.00" cy="8.73" r="7.75" fill="#d9222f"/><text x="199.00" y="13.18">B</text><circle cx="216.26" cy="8.73" r="7.75" fill="#2a8fc6"/><text x="216.26" y="13.18">S</text><circle cx="233.52" cy="8.73" r="7.75" fill="#d9222f"/><text x="233.52" y="13.18">B</text><circle cx="250.78" cy="8.73" r="7.75" fill="#2a8fc6"/><text x="250.78" y="13.18">S</text><circle cx="268.04" cy="8.73" r="7.75" fill="#d9222f"/><text x="268.04" y="13.18">B</text><circle cx="285.30" cy="8.73" r="7.75" fill="#2a8fc6"/><text x="285.30" y="13.18">S</text><circle cx="302.56" cy="8.73" r="7.75" fill="#d9222f"/><text x="302.56" y="13.18">B</text><circle cx="319.82" cy="8.73" r="7.75" fill="#2a8fc6"/><text x="319.82" y="13.18">S</text><circle cx="337.08" cy="8.73" r="7.75" fill="#d9222f"/><text x="337.08" y="13.18">B</text><circle cx="354.34" cy="8.73" r="7.75" fill="#2a8fc6"/><text x="354.34" y="13.18">S</text><circle cx="371.60" cy="8.73" r="7.75" fill="#d9222f"/><text x="371.60" y="13.18">B</text><circle cx="388.86" cy="8.73" r="7.75" fill="#2a8fc6"/><text x="388.86" y="13.18">S</text><circle cx="406.12" cy="8.73" r="7.75" fill="#d9222f"/><text x="406.12" y="13.18">B</text><circle cx="423.38" cy="8.73" r="7.75" fill="#2a8fc6"/><text x="423.38" y="13.18">S</text><circle cx="440.64" cy="8.73" r="7.75" fill="#d9222f"/><text x="440.64" y="13.18">B</text><circle cx="457.90" cy="8.73" r="7.75" fill="#2a8fc6"/><text x="457.90" y="13.18">S</text><circle cx="475.16" cy="8.73" r="7.75" fill="#d9222f"/><text x="475.16" y="13.18">B</text><circle cx="492.42" cy="8.73" r="7.75" fill="#2a8fc6"/><text x="492.42" y="13.18">S</text><circle cx="509.68" cy="8.73" r="7.75" fill="#d9222f"/><text x="509.68" y="13.18">B</text><circle cx="526.94" cy="8.73" r="7.75" fill="#2a8fc6"/><text x="526.94" y="13.18">S</text><circle cx="544.20" cy="8.73" r="7.75" fill="#d9222f"/><text x="544.20" y="13.18">B</text><circle cx="561.46" cy="8.73" r="7.75" fill="#2a8fc6"/><text x="561.46" y="13.18">S</text><circle cx="578.72" cy="8.73" r="7.75" fill="#d9222f"/><text x="578.72" y="13.18">B</text><circle cx="112.70" cy="25.99" r="7.75" fill="#2a8fc6"/><text x="112.70" y="30.44">S</text><circle cx="129.96" cy="25.99" r="7.75" fill="#d9222f"/><text x="129.96" y="30.44">B</text><circle cx="199.00" cy="25.99" r="7.75" fill="#d9222f"/><text x="199.00" y="30.44">B</text><circle cx="319.82" cy="25.99" r="7.75" fill="#2a8fc6"/><text x="319.82" y="30.44">S</text><circle cx="388.86" cy="25.99" r="7.75" fill="#2a8fc6"/><text x="388.86" y="30.44">S</text><circle cx="440.64" cy="25.99" r="7.75" fill="#d9222f"/><text x="440.64" y="30.44">B</text><circle cx="457.90" cy="25.99" r="7.75" fill="#2a8fc6"/><text x="457.90" y="30.44">S</text><circle cx="492.42" cy="25.99" r="7.75" fill="#2a8fc6"/><text x="492.42" y="30.44">S</text><circle cx="509.68" cy="25.99" r="7.75" fill="#d9222f"/><text x="509.68" y="30.44">B</text><circle cx="526.94" cy="25.99" r="7.75" fill="#2a8fc6"/><text x="526.94" y="30.44">S</text><circle cx="544.20" cy="25.99" r="7.75" fill="#d9222f"/><text x="544.20" y="30.44">B</text><circle cx="561.46" cy="25.99" r="7.75" fill="#2a8fc6"/><text x="561.46" y="30.44">S</text><circle cx="578.72" cy="25.99" r="7.75" fill="#d9222f"/><text x="578.72" y="30.44">B</text><circle cx="112.70" cy="43.25" r="7.75" fill="#2a8fc6"/><text x="112.70" y="47.70">S</text><circle cx="457.90" cy="43.25" r="7.75" fill="#2a8fc6"/><text x="457.90" y="47.70">S</text><circle cx="509.68" cy="43.25" r="7.75" fill="#d9222f"/><text x="509.68" y="47.70">B</text><circle cx="561.46" cy="43.25" r="7.75" fill="#2a8fc6"/><text x="561.46" y="47.70">S</text><circle cx="457.90" cy="60.51" r="7.75" fill="#2a8fc6"/><text x="457.90" y="64.96">S</text><circle cx="561.46" cy="60.51" r="7.75" fill="#2a8fc6"/><text x="561.46" y="64.96">S</text></svg>
<div class="a" style="left:66.00px;top:483.60px;width:538.60px;height:14.20px;background:#bdbdbd"></div>
<div class="a" style="left:284.00px;top:483.60px;width:290.30px;height:14.20px;background:#878787"></div>
<svg class="a" style="left:69px;top:485.5px" width="9" height="10" viewBox="0 0 9 10"><path d="M7.6 0.8 L1.8 5 L7.6 9.2" fill="none" stroke="#999" stroke-width="1.8"/></svg>
<svg class="a" style="left:593px;top:485.5px" width="9" height="10" viewBox="0 0 9 10"><path d="M1.4 0.8 L7.2 5 L1.4 9.2" fill="none" stroke="#999" stroke-width="1.8"/></svg>
<svg class="a" style="left:9px;top:485px" width="14" height="13" viewBox="0 0 14 13"><path d="M2.49 4.76 A4.8 4.8 0 0 1 11.70 5.40" fill="none" stroke="#2d2d2d" stroke-width="1.8"/><path d="M11.51 8.04 A4.8 4.8 0 0 1 2.30 7.40" fill="none" stroke="#2d2d2d" stroke-width="1.8"/><path d="M9.40 4.20 L14.20 4.20 L11.80 8.20 Z" fill="#2d2d2d"/><path d="M-0.20 8.60 L4.60 8.60 L2.20 4.60 Z" fill="#2d2d2d"/></svg>
<svg class="a" style="left:31px;top:486.5px" width="11" height="11" viewBox="0 0 11 11"><rect x="0.4" y="6.6" width="2.2" height="4" fill="#2d2d2d"/><rect x="4" y="0.6" width="2.4" height="10" fill="#2d2d2d"/><rect x="7.8" y="4.2" width="2.2" height="6.4" fill="#2d2d2d"/></svg>
<svg class="a" style="left:48.4px;top:485px" width="12" height="10" viewBox="0 0 12 10"><rect x="0.2" y="0.4" width="1.6" height="1.6" fill="#2d2d2d"/><rect x="3" y="0.2" width="2.2" height="2.2" fill="#2d2d2d"/><rect x="6" y="0.2" width="2.2" height="2.2" fill="#2d2d2d"/><rect x="9" y="0.2" width="2.2" height="2.2" fill="#2d2d2d"/><rect x="4.6" y="3.4" width="2.2" height="2.2" fill="#2d2d2d"/><rect x="7.8" y="3.4" width="2.2" height="2.2" fill="#2d2d2d"/><rect x="6" y="6.6" width="2.2" height="2.2" fill="#2d2d2d"/></svg>
</div>
<div class="pn" style="left:614.3px;top:0px">
<div class="a lt" style="left:5.60px;top:78.60px;width:105.00px;height:49.00px;"></div>
<div class="t" style="top:85.66px;font-size:14.7px;color:#fff;left:11.60px;letter-spacing:-0.15px;">POWER</div>
<div class="t" style="top:107.66px;font-size:14.7px;color:#fff;left:11.60px;letter-spacing:-0.15px;">KENO</div>
<svg class="a" style="left:89.7px;top:83.3px" width="15" height="15" viewBox="0 0 15 15"><rect width="14" height="14.4" fill="#2681b0"/><path d="M2.8 3 L11.4 11.6 M11.4 3 L2.8 11.6" stroke="#1b5e7f" stroke-width="1.9"/></svg>
<svg class="a" style="left:91.5px;top:111px" width="12" height="8" viewBox="0 0 12 8"><path d="M0.6 1 L5.6 6 L10.6 1" fill="none" stroke="#3ba3dc" stroke-width="1.6"/></svg>
<div class="a nm" style="left:5.60px;top:126.20px;width:105.00px;height:27.30px;"></div>
<div class="t" style="top:132.79px;font-size:15.6px;color:#fff;left:-142.00px;width:400px;text-align:center;letter-spacing:-0.25px;-webkit-text-stroke:0.3px #fff;">10007462</div>
<svg class="a" style="left:5.7000000000000455px;top:153px" width="105" height="110" viewBox="0 0 106 110" preserveAspectRatio="none">
<defs><radialGradient id="pg" cx="50%" cy="50%" r="72%"><stop offset="0" stop-color="#1f86d6"/><stop offset="0.55" stop-color="#1266b8"/><stop offset="1" stop-color="#0a4692"/></radialGradient>
<radialGradient id="pg2" cx="50%" cy="50%" r="50%"><stop offset="0.76" stop-color="#3c9de0" stop-opacity="0.3"/><stop offset="0.9" stop-color="#a5d8f7" stop-opacity="0.7"/><stop offset="1" stop-color="#5db8f0" stop-opacity="0.05"/></radialGradient>
<linearGradient id="bolt" x1="0" y1="0" x2="1" y2="1"><stop offset="0" stop-color="#ffe010"/><stop offset="0.5" stop-color="#ffc400"/><stop offset="1" stop-color="#ff8a00"/></linearGradient>
<filter id="bl1" x="-50%" y="-50%" width="200%" height="200%"><feGaussianBlur stdDeviation="3.2"/></filter>
<filter id="bl0" x="-50%" y="-50%" width="200%" height="200%"><feGaussianBlur stdDeviation="0.35"/></filter></defs>
<rect width="106" height="110" fill="url(#pg)"/>
<g filter="url(#bl1)" opacity="0.55"><circle cx="14" cy="34" r="9" fill="#2fb4ff"/><circle cx="10" cy="62" r="7" fill="#2fb4ff"/><circle cx="92" cy="86" r="9" fill="#2fb4ff"/><circle cx="98" cy="52" r="6" fill="#2fb4ff"/><circle cx="40" cy="10" r="7" fill="#2fa4ff"/><circle cx="60" cy="100" r="8" fill="#2fa4ff"/></g>
<circle cx="53" cy="53.5" r="49" fill="url(#pg2)"/>
<g filter="url(#bl0)"><circle cx="30.8" cy="98.4" r="0.5" fill="#4fd2ff" opacity="0.80"/><circle cx="95.7" cy="82.7" r="1.3" fill="#4fd2ff" opacity="0.38"/><circle cx="2.4" cy="51.6" r="0.5" fill="#4fd2ff" opacity="0.48"/><circle cx="9.0" cy="39.4" r="0.5" fill="#4fd2ff" opacity="0.80"/><circle cx="86.0" cy="86.5" r="0.5" fill="#4fd2ff" opacity="0.67"/><circle cx="11.1" cy="85.8" r="0.6" fill="#4fd2ff" opacity="0.38"/><circle cx="80.9" cy="19.6" r="0.5" fill="#4fd2ff" opacity="0.66"/><circle cx="8.4" cy="36.3" r="0.6" fill="#4fd2ff" opacity="0.41"/><circle cx="11.6" cy="34.1" r="0.5" fill="#4fd2ff" opacity="0.66"/><circle cx="18.3" cy="21.8" r="1.0" fill="#4fd2ff" opacity="0.72"/><circle cx="15.1" cy="72.5" r="1.0" fill="#4fd2ff" opacity="0.55"/><circle cx="53.5" cy="105.7" r="0.6" fill="#4fd2ff" opacity="0.73"/><circle cx="54.4" cy="93.0" r="0.8" fill="#4fd2ff" opacity="0.75"/><circle cx="43.1" cy="94.8" r="0.5" fill="#4fd2ff" opacity="0.41"/><circle cx="13.7" cy="76.2" r="1.0" fill="#4fd2ff" opacity="0.58"/><circle cx="93.7" cy="44.1" r="0.5" fill="#4fd2ff" opacity="0.77"/><circle cx="9.6" cy="32.6" r="0.8" fill="#4fd2ff" opacity="0.68"/><circle cx="16.5" cy="34.0" r="1.0" fill="#4fd2ff" opacity="0.39"/><circle cx="89.6" cy="78.4" r="0.5" fill="#4fd2ff" opacity="0.38"/><circle cx="37.0" cy="3.0" r="1.3" fill="#4fd2ff" opacity="0.90"/><circle cx="72.1" cy="14.6" r="0.8" fill="#4fd2ff" opacity="0.36"/><circle cx="4.1" cy="66.0" r="0.6" fill="#4fd2ff" opacity="0.69"/><circle cx="7.1" cy="55.8" r="0.6" fill="#4fd2ff" opacity="0.57"/><circle cx="95.8" cy="29.3" r="1.0" fill="#4fd2ff" opacity="0.39"/><circle cx="20.6" cy="64.7" r="1.0" fill="#4fd2ff" opacity="0.83"/><circle cx="45.6" cy="94.9" r="1.0" fill="#4fd2ff" opacity="0.89"/><circle cx="35.7" cy="15.6" r="0.5" fill="#4fd2ff" opacity="0.45"/><circle cx="58.4" cy="101.4" r="0.6" fill="#4fd2ff" opacity="0.36"/><circle cx="75.8" cy="13.1" r="0.6" fill="#4fd2ff" opacity="0.58"/><circle cx="19.6" cy="89.9" r="1.3" fill="#4fd2ff" opacity="0.53"/><circle cx="90.7" cy="92.0" r="0.5" fill="#4fd2ff" opacity="0.60"/><circle cx="76.8" cy="28.9" r="1.3" fill="#4fd2ff" opacity="0.57"/><circle cx="11.8" cy="84.4" r="0.5" fill="#4fd2ff" opacity="0.45"/><circle cx="102.5" cy="49.2" r="1.0" fill="#4fd2ff" opacity="0.44"/><circle cx="28.8" cy="92.1" r="0.6" fill="#4fd2ff" opacity="0.65"/><circle cx="95.7" cy="39.8" r="1.3" fill="#4fd2ff" opacity="0.36"/><circle cx="83.0" cy="23.7" r="0.8" fill="#4fd2ff" opacity="0.88"/><circle cx="18.6" cy="28.3" r="1.0" fill="#4fd2ff" opacity="0.42"/><circle cx="82.8" cy="12.4" r="1.0" fill="#4fd2ff" opacity="0.52"/><circle cx="80.6" cy="89.2" r="0.8" fill="#4fd2ff" opacity="0.76"/><circle cx="10.7" cy="59.7" r="0.6" fill="#4fd2ff" opacity="0.87"/><circle cx="14.8" cy="47.1" r="0.6" fill="#4fd2ff" opacity="0.73"/><circle cx="91.8" cy="30.8" r="0.5" fill="#4fd2ff" opacity="0.73"/><circle cx="50.2" cy="94.3" r="0.8" fill="#4fd2ff" opacity="0.85"/><circle cx="24.5" cy="90.4" r="1.3" fill="#4fd2ff" opacity="0.53"/><circle cx="61.7" cy="105.0" r="0.6" fill="#4fd2ff" opacity="0.79"/><circle cx="71.6" cy="13.3" r="1.3" fill="#4fd2ff" opacity="0.62"/><circle cx="48.1" cy="13.2" r="0.5" fill="#4fd2ff" opacity="0.78"/><circle cx="6.1" cy="62.3" r="0.8" fill="#4fd2ff" opacity="0.60"/><circle cx="101.0" cy="33.9" r="0.8" fill="#4fd2ff" opacity="0.88"/><circle cx="22.8" cy="88.4" r="0.6" fill="#4fd2ff" opacity="0.54"/><circle cx="4.4" cy="59.3" r="1.3" fill="#4fd2ff" opacity="0.81"/><circle cx="14.0" cy="59.1" r="0.5" fill="#4fd2ff" opacity="0.81"/><circle cx="79.9" cy="79.3" r="1.0" fill="#4fd2ff" opacity="0.78"/><circle cx="53.0" cy="12.4" r="0.8" fill="#4fd2ff" opacity="0.40"/><circle cx="95.9" cy="38.9" r="1.0" fill="#4fd2ff" opacity="0.60"/><circle cx="51.0" cy="6.3" r="0.6" fill="#4fd2ff" opacity="0.37"/><circle cx="13.7" cy="28.8" r="1.0" fill="#4fd2ff" opacity="0.79"/><circle cx="84.6" cy="95.4" r="0.8" fill="#4fd2ff" opacity="0.44"/><circle cx="23.1" cy="44.6" r="0.5" fill="#4fd2ff" opacity="0.36"/><circle cx="93.4" cy="46.5" r="0.6" fill="#4fd2ff" opacity="0.59"/><circle cx="80.4" cy="25.5" r="0.6" fill="#4fd2ff" opacity="0.37"/><circle cx="61.3" cy="88.7" r="0.8" fill="#4fd2ff" opacity="0.49"/><circle cx="13.8" cy="75.9" r="0.6" fill="#4fd2ff" opacity="0.38"/><circle cx="49.7" cy="2.6" r="1.3" fill="#4fd2ff" opacity="0.58"/><circle cx="87.9" cy="34.2" r="1.3" fill="#4fd2ff" opacity="0.42"/><circle cx="72.6" cy="81.6" r="0.6" fill="#4fd2ff" opacity="0.68"/><circle cx="60.2" cy="10.3" r="0.6" fill="#4fd2ff" opacity="0.44"/><circle cx="9.7" cy="61.3" r="0.8" fill="#4fd2ff" opacity="0.73"/><circle cx="15.6" cy="46.7" r="1.0" fill="#4fd2ff" opacity="0.78"/><circle cx="85.3" cy="79.4" r="0.8" fill="#4fd2ff" opacity="0.37"/><circle cx="88.5" cy="79.0" r="1.0" fill="#4fd2ff" opacity="0.66"/><circle cx="56.1" cy="4.0" r="1.3" fill="#4fd2ff" opacity="0.89"/><circle cx="20.1" cy="28.1" r="0.6" fill="#4fd2ff" opacity="0.73"/><circle cx="15.9" cy="65.5" r="0.6" fill="#4fd2ff" opacity="0.73"/><circle cx="84.2" cy="23.4" r="0.8" fill="#4fd2ff" opacity="0.86"/><circle cx="89.5" cy="24.8" r="1.0" fill="#4fd2ff" opacity="0.42"/><circle cx="5.6" cy="72.0" r="0.5" fill="#4fd2ff" opacity="0.72"/><circle cx="11.5" cy="74.1" r="0.5" fill="#4fd2ff" opacity="0.84"/><circle cx="81.0" cy="94.9" r="0.8" fill="#4fd2ff" opacity="0.43"/><circle cx="89.2" cy="21.2" r="0.5" fill="#4fd2ff" opacity="0.57"/><circle cx="8.9" cy="57.5" r="0.6" fill="#4fd2ff" opacity="0.44"/><circle cx="16.6" cy="70.7" r="0.6" fill="#4fd2ff" opacity="0.55"/><circle cx="90.2" cy="78.4" r="0.8" fill="#4fd2ff" opacity="0.36"/><circle cx="11.5" cy="39.3" r="0.8" fill="#4fd2ff" opacity="0.63"/><circle cx="40.2" cy="97.5" r="0.5" fill="#4fd2ff" opacity="0.41"/><circle cx="93.6" cy="31.2" r="0.5" fill="#4fd2ff" opacity="0.50"/><circle cx="61.1" cy="10.1" r="1.0" fill="#4fd2ff" opacity="0.82"/><circle cx="31.5" cy="11.2" r="0.8" fill="#4fd2ff" opacity="0.57"/></g>
<circle cx="53" cy="54.5" r="38.4" fill="#0e4d72" stroke="#e3a71c" stroke-width="1.3"/>
<path d="M22 42 Q30 28 48 27 Q60 36 54 50 Q42 58 38 76 Q24 68 22 42 Z" fill="#175c84" opacity="0.75"/>
<path d="M60 32 Q80 34 86 52 Q80 70 68 64 Q58 48 60 32 Z" fill="#175c84" opacity="0.65"/>
<path d="M46 80 Q56 72 66 78 Q60 90 50 90 Z" fill="#175c84" opacity="0.5"/>
<path d="M48.7 33 L64.2 33 L58.3 50.2 L65.8 50.2 L47.3 80 L52 56.6 L43.6 57.4 Z" fill="#1a86c2" transform="translate(1.2,1.2)"/>
<path d="M47.2 32.4 L62.8 32.4 L56.8 49.4 L64.6 49.4 L45.8 79.6 L50.6 55.4 L41.8 56.4 Z" fill="url(#bolt)"/>
<path d="M55.6 33 L52.4 51.4 L57 50.4 L47 76 L53.6 55 L49.6 54.6 Z" fill="#ff9c00" opacity="0.75"/>
</svg>
<div class="a vao" style="left:5.60px;top:262.50px;width:105.00px;height:23.00px;"></div>
<div class="t" style="top:264.95px;font-size:16.6px;color:#1a1a1a;left:-142.00px;width:400px;text-align:center;">VÀO</div>
<div class="a cuoc" style="left:5.60px;top:290.00px;width:105.00px;height:23.50px;"></div>
<div class="t" style="top:293.55px;font-size:16.6px;color:#2b7195;left:-142.00px;width:400px;text-align:center;letter-spacing:0.35px;">CƯỢC LẠI</div>
<div class="a nm" style="left:5.60px;top:318.00px;width:105.00px;height:26.50px;"></div>
<div class="t" style="top:323.36px;font-size:18.6px;color:#fff;left:-142.00px;width:400px;text-align:center;letter-spacing:-0.3px;-webkit-text-stroke:0.35px #fff;">0:11</div>
<div class="a lt" style="left:5.60px;top:349.00px;width:105.00px;height:26.50px;"></div>
<div class="t" style="top:356.30px;font-size:13px;color:#fff;font-weight:bold;left:-142.00px;width:400px;text-align:center;letter-spacing:-0.2px;">10007461</div>
<svg class="a" style="left:9px;top:357px" width="9" height="12" viewBox="0 0 9 12"><path d="M7.4 0.8 L1.6 6 L7.4 11.2" fill="none" stroke="#fff" stroke-width="1.5"/></svg>
<svg class="a" style="left:98.5px;top:357px" width="9" height="12" viewBox="0 0 9 12"><path d="M1.6 0.8 L7.4 6 L1.6 11.2" fill="none" stroke="#fff" stroke-width="1.5"/></svg>
<div class="ball" style="left:115.50px;top:78.80px">01</div>
<div class="ball" style="left:138.92px;top:78.80px">02</div>
<div class="ball" style="left:162.34px;top:78.80px">03</div>
<div class="ball" style="left:185.76px;top:78.80px">04</div>
<div class="ball" style="left:209.18px;top:78.80px">05</div>
<div class="ball" style="left:232.60px;top:78.80px">06</div>
<div class="ball" style="left:256.02px;top:78.80px">07</div>
<div class="ball" style="left:279.44px;top:78.80px">08</div>
<div class="ball" style="left:302.86px;top:78.80px">09</div>
<div class="ball" style="left:326.28px;top:78.80px">10</div>
<div class="ball" style="left:115.50px;top:102.30px">11</div>
<div class="ball" style="left:138.92px;top:102.30px">12</div>
<div class="ball" style="left:162.34px;top:102.30px">13</div>
<div class="ball" style="left:185.76px;top:102.30px">14</div>
<div class="ball" style="left:209.18px;top:102.30px">15</div>
<div class="ball" style="left:232.60px;top:102.30px">16</div>
<div class="ball" style="left:256.02px;top:102.30px">17</div>
<div class="ball" style="left:279.44px;top:102.30px">18</div>
<div class="ball" style="left:302.86px;top:102.30px">19</div>
<div class="ball" style="left:326.28px;top:102.30px">20</div>
<div class="ball" style="left:115.50px;top:125.80px">21</div>
<div class="ball" style="left:138.92px;top:125.80px">22</div>
<div class="ball" style="left:162.34px;top:125.80px">23</div>
<div class="ball" style="left:185.76px;top:125.80px">24</div>
<div class="ball" style="left:209.18px;top:125.80px">25</div>
<div class="ball" style="left:232.60px;top:125.80px">26</div>
<div class="ball" style="left:256.02px;top:125.80px">27</div>
<div class="ball" style="left:279.44px;top:125.80px">28</div>
<div class="ball" style="left:302.86px;top:125.80px">29</div>
<div class="ball" style="left:326.28px;top:125.80px">30</div>
<div class="ball" style="left:115.50px;top:149.30px">31</div>
<div class="ball" style="left:138.92px;top:149.30px">32</div>
<div class="ball" style="left:162.34px;top:149.30px">33</div>
<div class="ball" style="left:185.76px;top:149.30px">34</div>
<div class="ball" style="left:209.18px;top:149.30px">35</div>
<div class="ball" style="left:232.60px;top:149.30px">36</div>
<div class="ball" style="left:256.02px;top:149.30px">37</div>
<div class="ball" style="left:279.44px;top:149.30px">38</div>
<div class="ball" style="left:302.86px;top:149.30px">39</div>
<div class="ball" style="left:326.28px;top:149.30px">40</div>
<div class="ball" style="left:115.50px;top:172.80px">41</div>
<div class="ball" style="left:138.92px;top:172.80px">42</div>
<div class="ball" style="left:162.34px;top:172.80px">43</div>
<div class="ball" style="left:185.76px;top:172.80px">44</div>
<div class="ball" style="left:209.18px;top:172.80px">45</div>
<div class="ball" style="left:232.60px;top:172.80px">46</div>
<div class="ball" style="left:256.02px;top:172.80px">47</div>
<div class="ball" style="left:279.44px;top:172.80px">48</div>
<div class="ball" style="left:302.86px;top:172.80px">49</div>
<div class="ball" style="left:326.28px;top:172.80px">50</div>
<div class="ball" style="left:115.50px;top:196.30px">51</div>
<div class="ball" style="left:138.92px;top:196.30px">52</div>
<div class="ball" style="left:162.34px;top:196.30px">53</div>
<div class="ball" style="left:185.76px;top:196.30px">54</div>
<div class="ball" style="left:209.18px;top:196.30px">55</div>
<div class="ball" style="left:232.60px;top:196.30px">56</div>
<div class="ball" style="left:256.02px;top:196.30px">57</div>
<div class="ball" style="left:279.44px;top:196.30px">58</div>
<div class="ball" style="left:302.86px;top:196.30px">59</div>
<div class="ball" style="left:326.28px;top:196.30px">60</div>
<div class="ball" style="left:115.50px;top:219.80px">61</div>
<div class="ball" style="left:138.92px;top:219.80px">62</div>
<div class="ball" style="left:162.34px;top:219.80px">63</div>
<div class="ball" style="left:185.76px;top:219.80px">64</div>
<div class="ball" style="left:209.18px;top:219.80px">65</div>
<div class="ball" style="left:232.60px;top:219.80px">66</div>
<div class="ball" style="left:256.02px;top:219.80px">67</div>
<div class="ball" style="left:279.44px;top:219.80px">68</div>
<div class="ball" style="left:302.86px;top:219.80px">69</div>
<div class="ball" style="left:326.28px;top:219.80px">70</div>
<div class="ball" style="left:115.50px;top:243.30px">71</div>
<div class="ball" style="left:138.92px;top:243.30px">72</div>
<div class="ball" style="left:162.34px;top:243.30px">73</div>
<div class="ball" style="left:185.76px;top:243.30px">74</div>
<div class="ball" style="left:209.18px;top:243.30px">75</div>
<div class="ball" style="left:232.60px;top:243.30px">76</div>
<div class="ball" style="left:256.02px;top:243.30px">77</div>
<div class="ball" style="left:279.44px;top:243.30px">78</div>
<div class="ball" style="left:302.86px;top:243.30px">79</div>
<div class="ball" style="left:326.28px;top:243.30px">80</div>
<div class="a" style="left:115.00px;top:271.00px;width:232.00px;height:57.50px;border:1px solid #5a5a5a;"></div>
<div class="t" style="top:275.62px;font-size:12.5px;color:#636363;left:30.50px;width:400px;text-align:center;-webkit-text-stroke:0.25px #636363;">Hệ Thống Chọn Lựa</div>
<svg class="a" style="left:327px;top:275.5px" width="16" height="14" viewBox="0 0 16 14"><path d="M4 6.6 A5.2 5.2 0 1 1 8.6 12.2" fill="none" stroke="#333" stroke-width="2"/><path d="M0.4 4.6 L7.4 5 L3.2 10 Z" fill="#333"/></svg>
<div class="sb" style="left:119.80px;top:295.00px;width:41.60px;height:29.00px;"></div>
<div class="t" style="top:303.23px;font-size:16.5px;color:#fff;font-weight:bold;left:-59.40px;width:400px;text-align:center;">1</div>
<div class="sb" style="left:165.05px;top:295.00px;width:41.60px;height:29.00px;"></div>
<div class="t" style="top:303.23px;font-size:16.5px;color:#fff;font-weight:bold;left:-14.15px;width:400px;text-align:center;">2</div>
<div class="sb" style="left:210.30px;top:295.00px;width:41.60px;height:29.00px;"></div>
<div class="t" style="top:303.23px;font-size:16.5px;color:#fff;font-weight:bold;left:31.10px;width:400px;text-align:center;">3</div>
<div class="sb" style="left:255.55px;top:295.00px;width:41.60px;height:29.00px;"></div>
<div class="t" style="top:303.23px;font-size:16.5px;color:#fff;font-weight:bold;left:76.35px;width:400px;text-align:center;">4</div>
<div class="sb" style="left:300.80px;top:295.00px;width:41.60px;height:29.00px;"></div>
<div class="t" style="top:303.23px;font-size:16.5px;color:#fff;font-weight:bold;left:121.60px;width:400px;text-align:center;">5</div>
<div class="bet sel" style="left:352.00px;top:79.00px;width:96.00px;height:47.50px;z-index:2;"></div>
<div class="t" style="top:82.80px;font-size:21.5px;color:#fff;left:200.00px;width:400px;text-align:center;z-index:3;">TÀI</div>
<div class="t ods" style="top:110.76px;font-size:12.8px;color:#76c1d5;left:200.00px;width:400px;text-align:center;z-index:3;">1.95</div>
<div class="bet dk" style="left:451.70px;top:79.00px;width:53.00px;height:47.50px;"></div>
<div class="t" style="top:83.58px;font-size:11.6px;color:#fff;font-weight:bold;left:278.50px;width:400px;text-align:center;z-index:3;">HÒA</div>
<div class="t ods" style="top:110.76px;font-size:12.8px;color:#76c1d5;left:278.50px;width:400px;text-align:center;z-index:3;">108</div>
<div class="bet" style="left:508.00px;top:79.00px;width:96.00px;height:47.50px;"></div>
<div class="t" style="top:82.80px;font-size:21.5px;color:#fff;left:356.00px;width:400px;text-align:center;z-index:3;">XỈU</div>
<div class="t ods" style="top:110.76px;font-size:12.8px;color:#76c1d5;left:356.00px;width:400px;text-align:center;z-index:3;">1.95</div>
<div class="bet sel" style="left:352.00px;top:129.30px;width:96.00px;height:47.50px;z-index:2;"></div>
<div class="t" style="top:133.66px;font-size:20.6px;color:#fff;left:197.40px;width:400px;text-align:center;z-index:3;">TRÊN</div>
<div class="t ods" style="top:161.06px;font-size:12.8px;color:#76c1d5;left:200.00px;width:400px;text-align:center;z-index:3;">2.3</div>
<div class="bet dk" style="left:451.70px;top:129.30px;width:53.00px;height:47.50px;"></div>
<div class="t" style="top:133.66px;font-size:20.6px;color:#fff;left:278.50px;width:400px;text-align:center;z-index:3;letter-spacing:-0.3px;">HÒA</div>
<div class="t ods" style="top:161.06px;font-size:12.8px;color:#76c1d5;left:278.50px;width:400px;text-align:center;z-index:3;">4.3</div>
<div class="bet" style="left:508.00px;top:129.30px;width:96.00px;height:47.50px;"></div>
<div class="t" style="top:133.66px;font-size:20.6px;color:#fff;left:356.00px;width:400px;text-align:center;z-index:3;">DƯỚI</div>
<div class="t ods" style="top:161.06px;font-size:12.8px;color:#76c1d5;left:356.00px;width:400px;text-align:center;z-index:3;">2.3</div>
<div class="bet" style="left:352.00px;top:180.00px;width:96.00px;height:47.50px;"></div>
<div class="t" style="top:184.13px;font-size:15.2px;color:#fff;left:200.00px;width:400px;text-align:center;z-index:3;">CÁC</div>
<div class="t" style="top:198.13px;font-size:15.2px;color:#fff;left:200.00px;width:400px;text-align:center;z-index:3;">SỐ LẺ</div>
<div class="t ods" style="top:214.16px;font-size:12.8px;color:#76c1d5;left:200.00px;width:400px;text-align:center;z-index:3;">2.3</div>
<div class="bet dk" style="left:451.70px;top:180.00px;width:53.00px;height:47.50px;"></div>
<div class="t" style="top:184.36px;font-size:20.6px;color:#fff;left:278.50px;width:400px;text-align:center;z-index:3;letter-spacing:-0.3px;">HÒA</div>
<div class="t ods" style="top:211.76px;font-size:12.8px;color:#76c1d5;left:278.50px;width:400px;text-align:center;z-index:3;">4.3</div>
<div class="bet sel" style="left:508.00px;top:180.00px;width:96.00px;height:47.50px;z-index:2;"></div>
<div class="t" style="top:184.13px;font-size:15.2px;color:#fff;left:356.00px;width:400px;text-align:center;z-index:3;">CÁC SỐ</div>
<div class="t" style="top:198.13px;font-size:15.2px;color:#fff;left:356.00px;width:400px;text-align:center;z-index:3;">CHẴN</div>
<div class="t ods" style="top:214.16px;font-size:12.8px;color:#76c1d5;left:356.00px;width:400px;text-align:center;z-index:3;">2.3</div>
<div class="bet sel" style="left:352.00px;top:231.00px;width:124.50px;height:47.50px;z-index:2;"></div>
<div class="t" style="top:242.73px;font-size:20.4px;color:#fff;left:355.50px;z-index:3;">LẺ</div>
<div class="t ods" style="top:247.76px;font-size:12.8px;color:#76c1d5;left:72.60px;width:400px;text-align:right;z-index:3;">1.95</div>
<div class="bet" style="left:480.20px;top:231.00px;width:123.80px;height:47.50px;"></div>
<div class="t" style="top:242.73px;font-size:20.4px;color:#fff;left:483.00px;z-index:3;">CHẴN</div>
<div class="t ods" style="top:247.76px;font-size:12.8px;color:#76c1d5;left:200.00px;width:400px;text-align:right;z-index:3;">1.95</div>
<div class="bet sel" style="left:352.00px;top:282.00px;width:60.50px;height:47.50px;z-index:2;"></div>
<div class="t" style="top:286.32px;font-size:11.2px;color:#fff;font-weight:bold;left:374.20px;z-index:3;letter-spacing:-0.2px;">TÀI</div>
<div class="t" style="top:299.12px;font-size:11.2px;color:#fff;font-weight:bold;left:374.20px;z-index:3;letter-spacing:-0.2px;">LẺ</div>
<div class="t ods" style="top:314.16px;font-size:12.8px;color:#76c1d5;left:182.25px;width:400px;text-align:center;z-index:3;">3.7</div>
<div class="bet" style="left:416.20px;top:282.00px;width:60.50px;height:47.50px;"></div>
<div class="t" style="top:286.32px;font-size:11.2px;color:#fff;font-weight:bold;left:437.00px;z-index:3;letter-spacing:-0.2px;">XỈU</div>
<div class="t" style="top:299.12px;font-size:11.2px;color:#fff;font-weight:bold;left:437.00px;z-index:3;letter-spacing:-0.2px;">LẺ</div>
<div class="t ods" style="top:314.16px;font-size:12.8px;color:#76c1d5;left:246.45px;width:400px;text-align:center;z-index:3;">3.7</div>
<div class="bet" style="left:480.20px;top:282.00px;width:60.50px;height:47.50px;"></div>
<div class="t" style="top:286.32px;font-size:11.2px;color:#fff;font-weight:bold;left:494.00px;z-index:3;letter-spacing:-0.2px;">TÀI</div>
<div class="t" style="top:299.12px;font-size:11.2px;color:#fff;font-weight:bold;left:494.00px;z-index:3;letter-spacing:-0.2px;">CHẴN</div>
<div class="t ods" style="top:314.16px;font-size:12.8px;color:#76c1d5;left:310.45px;width:400px;text-align:center;z-index:3;">3.7</div>
<div class="bet" style="left:544.20px;top:282.00px;width:59.80px;height:47.50px;"></div>
<div class="t" style="top:286.32px;font-size:11.2px;color:#fff;font-weight:bold;left:558.00px;z-index:3;letter-spacing:-0.2px;">XỈU</div>
<div class="t" style="top:299.12px;font-size:11.2px;color:#fff;font-weight:bold;left:558.00px;z-index:3;letter-spacing:-0.2px;">CHẴN</div>
<div class="t ods" style="top:314.16px;font-size:12.8px;color:#76c1d5;left:374.10px;width:400px;text-align:center;z-index:3;">3.7</div>
<div class="el" style="left:115.00px;top:333.00px;width:93.80px;height:42.60px;"></div>
<div class="t" style="top:337.60px;font-size:18.9px;color:#fff;left:-38.10px;width:400px;text-align:center;z-index:3;-webkit-text-stroke:0.15px #fff;">KIM</div>
<div class="t ods" style="top:359.90px;font-size:12.4px;color:#76c1d5;left:-38.10px;width:400px;text-align:center;z-index:3;">9.2</div>
<div class="el" style="left:213.20px;top:333.00px;width:94.60px;height:42.60px;"></div>
<div class="t" style="top:337.60px;font-size:18.9px;color:#fff;left:60.50px;width:400px;text-align:center;z-index:3;-webkit-text-stroke:0.15px #fff;">MỘC</div>
<div class="t ods" style="top:359.90px;font-size:12.4px;color:#76c1d5;left:60.50px;width:400px;text-align:center;z-index:3;">4.6</div>
<div class="el sel" style="left:312.20px;top:333.00px;width:94.40px;height:42.60px;z-index:2;"></div>
<div class="t" style="top:337.60px;font-size:18.9px;color:#fff;left:159.40px;width:400px;text-align:center;z-index:3;-webkit-text-stroke:0.15px #fff;">THỦY</div>
<div class="t ods" style="top:359.90px;font-size:12.4px;color:#76c1d5;left:159.40px;width:400px;text-align:center;z-index:3;">2.4</div>
<div class="el" style="left:410.90px;top:333.00px;width:94.60px;height:42.60px;"></div>
<div class="t" style="top:337.60px;font-size:18.9px;color:#fff;left:255.80px;width:400px;text-align:center;z-index:3;-webkit-text-stroke:0.15px #fff;">HỎA</div>
<div class="t ods" style="top:359.90px;font-size:12.4px;color:#76c1d5;left:258.20px;width:400px;text-align:center;z-index:3;">4.6</div>
<div class="el" style="left:509.20px;top:333.00px;width:94.60px;height:42.60px;"></div>
<div class="t" style="top:337.60px;font-size:18.9px;color:#fff;left:356.50px;width:400px;text-align:center;z-index:3;-webkit-text-stroke:0.15px #fff;">THỔ</div>
<div class="t ods" style="top:359.90px;font-size:12.4px;color:#76c1d5;left:356.50px;width:400px;text-align:center;z-index:3;">9.2</div>
<div class="a" style="left:66px;top:379.1px;width:539.2px;height:104.4px;overflow:hidden;background:#e7e7e7"></div>
<svg class="a" style="left:66px;top:379.1px" width="539.6" height="104.6" shape-rendering="auto"><rect x="3.45" y="0" width="1.1" height="104.16" fill="#ababab"/><rect x="20.71" y="0" width="1.1" height="104.16" fill="#ababab"/><rect x="37.97" y="0" width="1.1" height="104.16" fill="#ababab"/><rect x="55.23" y="0" width="1.1" height="104.16" fill="#ababab"/><rect x="72.49" y="0" width="1.1" height="104.16" fill="#ababab"/><rect x="89.75" y="0" width="1.1" height="104.16" fill="#ababab"/><rect x="107.01" y="0" width="1.1" height="104.16" fill="#ababab"/><rect x="124.27" y="0" width="1.1" height="104.16" fill="#ababab"/><rect x="141.53" y="0" width="1.1" height="104.16" fill="#ababab"/><rect x="158.79" y="0" width="1.1" height="104.16" fill="#ababab"/><rect x="176.05" y="0" width="1.1" height="104.16" fill="#ababab"/><rect x="193.31" y="0" width="1.1" height="104.16" fill="#ababab"/><rect x="210.57" y="0" width="1.1" height="104.16" fill="#ababab"/><rect x="227.83" y="0" width="1.1" height="104.16" fill="#ababab"/><rect x="245.09" y="0" width="1.1" height="104.16" fill="#ababab"/><rect x="262.35" y="0" width="1.1" height="104.16" fill="#ababab"/><rect x="279.61" y="0" width="1.1" height="104.16" fill="#ababab"/><rect x="296.87" y="0" width="1.1" height="104.16" fill="#ababab"/><rect x="314.13" y="0" width="1.1" height="104.16" fill="#ababab"/><rect x="331.39" y="0" width="1.1" height="104.16" fill="#ababab"/><rect x="348.65" y="0" width="1.1" height="104.16" fill="#ababab"/><rect x="365.91" y="0" width="1.1" height="104.16" fill="#ababab"/><rect x="383.17" y="0" width="1.1" height="104.16" fill="#ababab"/><rect x="400.43" y="0" width="1.1" height="104.16" fill="#ababab"/><rect x="417.69" y="0" width="1.1" height="104.16" fill="#ababab"/><rect x="434.95" y="0" width="1.1" height="104.16" fill="#ababab"/><rect x="452.21" y="0" width="1.1" height="104.16" fill="#ababab"/><rect x="469.47" y="0" width="1.1" height="104.16" fill="#ababab"/><rect x="486.73" y="0" width="1.1" height="104.16" fill="#ababab"/><rect x="503.99" y="0" width="1.1" height="104.16" fill="#ababab"/><rect x="521.25" y="0" width="1.1" height="104.16" fill="#ababab"/><rect x="538.51" y="0" width="1.1" height="104.16" fill="#ababab"/><rect x="0" y="0.00" width="539.20" height="1.1" fill="#ababab"/><rect x="0" y="16.71" width="539.20" height="1.1" fill="#ababab"/><rect x="0" y="33.97" width="539.20" height="1.1" fill="#ababab"/><rect x="0" y="51.23" width="539.20" height="1.1" fill="#ababab"/><rect x="0" y="68.49" width="539.20" height="1.1" fill="#ababab"/><rect x="0" y="85.75" width="539.20" height="1.1" fill="#ababab"/><rect x="0" y="103.01" width="539.20" height="1.1" fill="#ababab"/></svg>
<div class="t" style="top:417.07px;font-size:25.2px;color:#dadada;left:134.80px;width:400px;text-align:center;">Big Road</div>
<div class="rl" style="left:5.00px;top:379.10px;width:61.00px;height:16.20px;background:#2980aa;"></div>
<div class="t" style="top:380.91px;font-size:14.4px;color:#fff;left:-164.50px;width:400px;text-align:center;letter-spacing:-0.3px;">T/X</div>
<div class="rl" style="left:5.00px;top:396.36px;width:61.00px;height:16.20px;"></div>
<div class="t" style="top:398.17px;font-size:14.4px;color:#fff;left:-164.50px;width:400px;text-align:center;letter-spacing:-0.3px;">L/C</div>
<div class="rl" style="left:5.00px;top:413.62px;width:61.00px;height:16.20px;"></div>
<div class="t" style="top:415.43px;font-size:14.4px;color:#fff;left:-164.50px;width:400px;text-align:center;letter-spacing:-0.3px;">L/H/C</div>
<div class="rl" style="left:5.00px;top:430.88px;width:61.00px;height:16.20px;"></div>
<div class="t" style="top:432.69px;font-size:14.4px;color:#fff;left:-164.50px;width:400px;text-align:center;letter-spacing:-0.3px;">T/H/D</div>
<div class="rl" style="left:5.00px;top:448.14px;width:61.00px;height:16.20px;"></div>
<div class="t" style="top:449.95px;font-size:14.4px;color:#fff;left:-164.50px;width:400px;text-align:center;letter-spacing:-0.3px;">SN</div>
<div class="rl" style="left:5.00px;top:465.40px;width:61.00px;height:16.20px;"></div>
<div class="t" style="top:467.21px;font-size:14.4px;color:#fff;left:-164.50px;width:400px;text-align:center;letter-spacing:-0.3px;">5E</div>
<svg class="a" style="left:60.8px;top:383.5px" width="6" height="9" viewBox="0 0 6 9"><path d="M5.4 0.5 L0.5 4.3 L5.4 8.1 Z" fill="#fff"/></svg>
<div class="a" style="left:571.04px;top:396.96px;width:16.26px;height:16.26px;background:#adadad"></div>
<svg class="a" style="left:0;top:379.1px" width="610" height="105.6" font-family="Liberation Sans" font-size="12.4" text-anchor="middle" fill="#fff"><clipPath id="cp6140"><rect x="66.2" y="0" width="3.40" height="18"/></clipPath><circle cx="61.37" cy="8.73" r="7.75" fill="#d9222f" clip-path="url(#cp6140)"/><circle cx="78.18" cy="8.73" r="7.75" fill="#2a8fc6"/><text x="78.18" y="13.18">S</text><circle cx="95.44" cy="8.73" r="7.75" fill="#d9222f"/><text x="95.44" y="13.18">B</text><circle cx="112.70" cy="8.73" r="7.75" fill="#2a8fc6"/><text x="112.70" y="13.18">S</text><circle cx="129.96" cy="8.73" r="7.75" fill="#d9222f"/><text x="129.96" y="13.18">B</text><circle cx="147.22" cy="8.73" r="7.75" fill="#2a8fc6"/><text x="147.22" y="13.18">S</text><circle cx="164.48" cy="8.73" r="7.75" fill="#d9222f"/><text x="164.48" y="13.18">B</text><circle cx="181.74" cy="8.73" r="7.75" fill="#2a8fc6"/><text x="181.74" y="13.18">S</text><circle cx="199.00" cy="8.73" r="7.75" fill="#d9222f"/><text x="199.00" y="13.18">B</text><circle cx="216.26" cy="8.73" r="7.75" fill="#2a8fc6"/><text x="216.26" y="13.18">S</text><circle cx="233.52" cy="8.73" r="7.75" fill="#d9222f"/><text x="233.52" y="13.18">B</text><circle cx="250.78" cy="8.73" r="7.75" fill="#2a8fc6"/><text x="250.78" y="13.18">S</text><circle cx="268.04" cy="8.73" r="7.75" fill="#d9222f"/><text x="268.04" y="13.18">B</text><circle cx="285.30" cy="8.73" r="7.75" fill="#2a8fc6"/><text x="285.30" y="13.18">S</text><circle cx="302.56" cy="8.73" r="7.75" fill="#d9222f"/><text x="302.56" y="13.18">B</text><circle cx="319.82" cy="8.73" r="7.75" fill="#2a8fc6"/><text x="319.82" y="13.18">S</text><circle cx="337.08" cy="8.73" r="7.75" fill="#d9222f"/><text x="337.08" y="13.18">B</text><circle cx="354.34" cy="8.73" r="7.75" fill="#2a8fc6"/><text x="354.34" y="13.18">S</text><circle cx="371.60" cy="8.73" r="7.75" fill="#d9222f"/><text x="371.60" y="13.18">B</text><circle cx="388.86" cy="8.73" r="7.75" fill="#2a8fc6"/><text x="388.86" y="13.18">S</text><circle cx="406.12" cy="8.73" r="7.75" fill="#d9222f"/><text x="406.12" y="13.18">B</text><circle cx="423.38" cy="8.73" r="7.75" fill="#2a8fc6"/><text x="423.38" y="13.18">S</text><circle cx="440.64" cy="8.73" r="7.75" fill="#d9222f"/><text x="440.64" y="13.18">B</text><circle cx="457.90" cy="8.73" r="7.75" fill="#2a8fc6"/><text x="457.90" y="13.18">S</text><circle cx="475.16" cy="8.73" r="7.75" fill="#d9222f"/><text x="475.16" y="13.18">B</text><circle cx="492.42" cy="8.73" r="7.75" fill="#2a8fc6"/><text x="492.42" y="13.18">S</text><circle cx="509.68" cy="8.73" r="7.75" fill="#d9222f"/><text x="509.68" y="13.18">B</text><circle cx="526.94" cy="8.73" r="7.75" fill="#2a8fc6"/><text x="526.94" y="13.18">S</text><circle cx="544.20" cy="8.73" r="7.75" fill="#d9222f"/><text x="544.20" y="13.18">B</text><circle cx="561.46" cy="8.73" r="7.75" fill="#2a8fc6"/><text x="561.46" y="13.18">S</text><circle cx="578.72" cy="8.73" r="7.75" fill="#d9222f"/><text x="578.72" y="13.18">B</text><circle cx="78.18" cy="25.99" r="7.75" fill="#2a8fc6"/><text x="78.18" y="30.44">S</text><circle cx="95.44" cy="25.99" r="7.75" fill="#d9222f"/><text x="95.44" y="30.44">B</text><circle cx="129.96" cy="25.99" r="7.75" fill="#d9222f"/><text x="129.96" y="30.44">B</text><circle cx="199.00" cy="25.99" r="7.75" fill="#d9222f"/><text x="199.00" y="30.44">B</text><circle cx="233.52" cy="25.99" r="7.75" fill="#d9222f"/><text x="233.52" y="30.44">B</text><circle cx="250.78" cy="25.99" r="7.75" fill="#2a8fc6"/><text x="250.78" y="30.44">S</text><circle cx="285.30" cy="25.99" r="7.75" fill="#2a8fc6"/><text x="285.30" y="30.44">S</text><circle cx="319.82" cy="25.99" r="7.75" fill="#2a8fc6"/><text x="319.82" y="30.44">S</text><circle cx="337.08" cy="25.99" r="7.75" fill="#d9222f"/><text x="337.08" y="30.44">B</text><circle cx="354.34" cy="25.99" r="7.75" fill="#2a8fc6"/><text x="354.34" y="30.44">S</text><circle cx="371.60" cy="25.99" r="7.75" fill="#d9222f"/><text x="371.60" y="30.44">B</text><circle cx="492.42" cy="25.99" r="7.75" fill="#2a8fc6"/><text x="492.42" y="30.44">S</text><circle cx="544.20" cy="25.99" r="7.75" fill="#d9222f"/><text x="544.20" y="30.44">B</text><circle cx="78.18" cy="43.25" r="7.75" fill="#2a8fc6"/><text x="78.18" y="47.70">S</text><circle cx="95.44" cy="43.25" r="7.75" fill="#d9222f"/><text x="95.44" y="47.70">B</text><circle cx="129.96" cy="43.25" r="7.75" fill="#d9222f"/><text x="129.96" y="47.70">B</text><circle cx="199.00" cy="43.25" r="7.75" fill="#d9222f"/><text x="199.00" y="47.70">B</text><circle cx="233.52" cy="43.25" r="7.75" fill="#d9222f"/><text x="233.52" y="47.70">B</text><circle cx="285.30" cy="43.25" r="7.75" fill="#2a8fc6"/><text x="285.30" y="47.70">S</text><circle cx="337.08" cy="43.25" r="7.75" fill="#d9222f"/><text x="337.08" y="47.70">B</text><circle cx="371.60" cy="43.25" r="7.75" fill="#d9222f"/><text x="371.60" y="47.70">B</text><circle cx="78.18" cy="60.51" r="7.75" fill="#2a8fc6"/><text x="78.18" y="64.96">S</text><circle cx="95.44" cy="60.51" r="7.75" fill="#d9222f"/><text x="95.44" y="64.96">B</text><circle cx="199.00" cy="60.51" r="7.75" fill="#d9222f"/><text x="199.00" y="64.96">B</text><path d="M227.92 66.31 L239.32 55.11" stroke="#1fa24a" stroke-width="1.4"/><circle cx="285.30" cy="60.51" r="7.75" fill="#2a8fc6"/><text x="285.30" y="64.96">S</text><circle cx="337.08" cy="60.51" r="7.75" fill="#d9222f"/><text x="337.08" y="64.96">B</text><circle cx="371.60" cy="60.51" r="7.75" fill="#d9222f"/><text x="371.60" y="64.96">B</text><circle cx="78.18" cy="77.77" r="7.75" fill="#2a8fc6"/><text x="78.18" y="82.22">S</text><circle cx="233.52" cy="77.77" r="7.75" fill="#d9222f"/><text x="233.52" y="82.22">B</text><circle cx="337.08" cy="77.77" r="7.75" fill="#d9222f"/><text x="337.08" y="82.22">B</text><circle cx="371.60" cy="77.77" r="7.75" fill="#d9222f"/><text x="371.60" y="82.22">B</text><circle cx="233.52" cy="95.03" r="7.75" fill="#d9222f"/><text x="233.52" y="99.48">B</text><circle cx="371.60" cy="95.03" r="7.75" fill="#d9222f"/><text x="371.60" y="99.48">B</text></svg>
<div class="a" style="left:66.00px;top:483.60px;width:538.60px;height:14.20px;background:#bdbdbd"></div>
<div class="a" style="left:159.20px;top:483.60px;width:411.00px;height:14.20px;background:#878787"></div>
<svg class="a" style="left:69px;top:485.5px" width="9" height="10" viewBox="0 0 9 10"><path d="M7.6 0.8 L1.8 5 L7.6 9.2" fill="none" stroke="#999" stroke-width="1.8"/></svg>
<svg class="a" style="left:593px;top:485.5px" width="9" height="10" viewBox="0 0 9 10"><path d="M1.4 0.8 L7.2 5 L1.4 9.2" fill="none" stroke="#999" stroke-width="1.8"/></svg>
<svg class="a" style="left:9px;top:485px" width="14" height="13" viewBox="0 0 14 13"><path d="M2.49 4.76 A4.8 4.8 0 0 1 11.70 5.40" fill="none" stroke="#2d2d2d" stroke-width="1.8"/><path d="M11.51 8.04 A4.8 4.8 0 0 1 2.30 7.40" fill="none" stroke="#2d2d2d" stroke-width="1.8"/><path d="M9.40 4.20 L14.20 4.20 L11.80 8.20 Z" fill="#2d2d2d"/><path d="M-0.20 8.60 L4.60 8.60 L2.20 4.60 Z" fill="#2d2d2d"/></svg>
<svg class="a" style="left:31px;top:486.5px" width="11" height="11" viewBox="0 0 11 11"><rect x="0.4" y="6.6" width="2.2" height="4" fill="#2d2d2d"/><rect x="4" y="0.6" width="2.4" height="10" fill="#2d2d2d"/><rect x="7.8" y="4.2" width="2.2" height="6.4" fill="#2d2d2d"/></svg>
<svg class="a" style="left:48.4px;top:485px" width="12" height="10" viewBox="0 0 12 10"><rect x="0.2" y="0.4" width="1.6" height="1.6" fill="#2d2d2d"/><rect x="3" y="0.2" width="2.2" height="2.2" fill="#2d2d2d"/><rect x="6" y="0.2" width="2.2" height="2.2" fill="#2d2d2d"/><rect x="9" y="0.2" width="2.2" height="2.2" fill="#2d2d2d"/><rect x="4.6" y="3.4" width="2.2" height="2.2" fill="#2d2d2d"/><rect x="7.8" y="3.4" width="2.2" height="2.2" fill="#2d2d2d"/><rect x="6" y="6.6" width="2.2" height="2.2" fill="#2d2d2d"/></svg>
</div>
<div class="pn" style="left:0px;top:439px">
<div class="a lt" style="left:5.00px;top:78.60px;width:105.60px;height:49.00px;"></div>
<div class="t" style="top:85.66px;font-size:14.7px;color:#fff;left:11.60px;letter-spacing:-0.15px;">EXTREME</div>
<div class="t" style="top:107.66px;font-size:14.7px;color:#fff;left:11.60px;letter-spacing:-0.15px;">KENO</div>
<svg class="a" style="left:89.7px;top:83.3px" width="15" height="15" viewBox="0 0 15 15"><rect width="14" height="14.4" fill="#2681b0"/><path d="M2.8 3 L11.4 11.6 M11.4 3 L2.8 11.6" stroke="#1b5e7f" stroke-width="1.9"/></svg>
<svg class="a" style="left:91.5px;top:111px" width="12" height="8" viewBox="0 0 12 8"><path d="M0.6 1 L5.6 6 L10.6 1" fill="none" stroke="#3ba3dc" stroke-width="1.6"/></svg>
<div class="a nm" style="left:5.00px;top:126.20px;width:105.60px;height:27.30px;"></div>
<div class="t" style="top:132.79px;font-size:15.6px;color:#fff;left:-142.00px;width:400px;text-align:center;letter-spacing:-0.25px;-webkit-text-stroke:0.3px #fff;">7973456</div>
<svg class="a" style="left:5px;top:153px" width="106" height="110" viewBox="0 0 106 110" preserveAspectRatio="none">
<defs><radialGradient id="eg" cx="46%" cy="52%" r="75%"><stop offset="0" stop-color="#2aa6f6"/><stop offset="0.4" stop-color="#167ad8"/><stop offset="0.8" stop-color="#0c4fae"/><stop offset="1" stop-color="#093f98"/></radialGradient>
<linearGradient id="ey" x1="0" y1="0" x2="1" y2="1"><stop offset="0" stop-color="#ffe81a"/><stop offset="1" stop-color="#f3c600"/></linearGradient>
<filter id="eb" x="-30%" y="-30%" width="160%" height="160%"><feGaussianBlur stdDeviation="2.2"/></filter></defs>
<rect width="106" height="110" fill="url(#eg)"/>
<path d="M4.6 0 V110" stroke="#3f9cf0" stroke-width="0.35" opacity="0.35"/><path d="M0 4.6 H106" stroke="#3f9cf0" stroke-width="0.35" opacity="0.35"/><path d="M9.2 0 V110" stroke="#3f9cf0" stroke-width="0.35" opacity="0.35"/><path d="M0 9.2 H106" stroke="#3f9cf0" stroke-width="0.35" opacity="0.35"/><path d="M13.8 0 V110" stroke="#3f9cf0" stroke-width="0.35" opacity="0.35"/><path d="M0 13.8 H106" stroke="#3f9cf0" stroke-width="0.35" opacity="0.35"/><path d="M18.4 0 V110" stroke="#3f9cf0" stroke-width="0.35" opacity="0.35"/><path d="M0 18.4 H106" stroke="#3f9cf0" stroke-width="0.35" opacity="0.35"/><path d="M23.0 0 V110" stroke="#3f9cf0" stroke-width="0.35" opacity="0.35"/><path d="M0 23.0 H106" stroke="#3f9cf0" stroke-width="0.35" opacity="0.35"/><path d="M27.6 0 V110" stroke="#3f9cf0" stroke-width="0.35" opacity="0.35"/><path d="M0 27.6 H106" stroke="#3f9cf0" stroke-width="0.35" opacity="0.35"/><path d="M32.2 0 V110" stroke="#3f9cf0" stroke-width="0.35" opacity="0.35"/><path d="M0 32.2 H106" stroke="#3f9cf0" stroke-width="0.35" opacity="0.35"/><path d="M36.8 0 V110" stroke="#3f9cf0" stroke-width="0.35" opacity="0.35"/><path d="M0 36.8 H106" stroke="#3f9cf0" stroke-width="0.35" opacity="0.35"/><path d="M41.4 0 V110" stroke="#3f9cf0" stroke-width="0.35" opacity="0.35"/><path d="M0 41.4 H106" stroke="#3f9cf0" stroke-width="0.35" opacity="0.35"/><path d="M46.0 0 V110" stroke="#3f9cf0" stroke-width="0.35" opacity="0.35"/><path d="M0 46.0 H106" stroke="#3f9cf0" stroke-width="0.35" opacity="0.35"/><path d="M50.6 0 V110" stroke="#3f9cf0" stroke-width="0.35" opacity="0.35"/><path d="M0 50.6 H106" stroke="#3f9cf0" stroke-width="0.35" opacity="0.35"/><path d="M55.2 0 V110" stroke="#3f9cf0" stroke-width="0.35" opacity="0.35"/><path d="M0 55.2 H106" stroke="#3f9cf0" stroke-width="0.35" opacity="0.35"/><path d="M59.8 0 V110" stroke="#3f9cf0" stroke-width="0.35" opacity="0.35"/><path d="M0 59.8 H106" stroke="#3f9cf0" stroke-width="0.35" opacity="0.35"/><path d="M64.4 0 V110" stroke="#3f9cf0" stroke-width="0.35" opacity="0.35"/><path d="M0 64.4 H106" stroke="#3f9cf0" stroke-width="0.35" opacity="0.35"/><path d="M69.0 0 V110" stroke="#3f9cf0" stroke-width="0.35" opacity="0.35"/><path d="M0 69.0 H106" stroke="#3f9cf0" stroke-width="0.35" opacity="0.35"/><path d="M73.6 0 V110" stroke="#3f9cf0" stroke-width="0.35" opacity="0.35"/><path d="M0 73.6 H106" stroke="#3f9cf0" stroke-width="0.35" opacity="0.35"/><path d="M78.2 0 V110" stroke="#3f9cf0" stroke-width="0.35" opacity="0.35"/><path d="M0 78.2 H106" stroke="#3f9cf0" stroke-width="0.35" opacity="0.35"/><path d="M82.8 0 V110" stroke="#3f9cf0" stroke-width="0.35" opacity="0.35"/><path d="M0 82.8 H106" stroke="#3f9cf0" stroke-width="0.35" opacity="0.35"/><path d="M87.4 0 V110" stroke="#3f9cf0" stroke-width="0.35" opacity="0.35"/><path d="M0 87.4 H106" stroke="#3f9cf0" stroke-width="0.35" opacity="0.35"/><path d="M92.0 0 V110" stroke="#3f9cf0" stroke-width="0.35" opacity="0.35"/><path d="M0 92.0 H106" stroke="#3f9cf0" stroke-width="0.35" opacity="0.35"/><path d="M96.6 0 V110" stroke="#3f9cf0" stroke-width="0.35" opacity="0.35"/><path d="M0 96.6 H106" stroke="#3f9cf0" stroke-width="0.35" opacity="0.35"/><path d="M101.2 0 V110" stroke="#3f9cf0" stroke-width="0.35" opacity="0.35"/><path d="M0 101.2 H106" stroke="#3f9cf0" stroke-width="0.35" opacity="0.35"/><path d="M105.8 0 V110" stroke="#3f9cf0" stroke-width="0.35" opacity="0.35"/><path d="M0 105.8 H106" stroke="#3f9cf0" stroke-width="0.35" opacity="0.35"/>
<g fill="#59b4f6" opacity="0.92">
<path d="M0 8 L4 2 L10 0 H22 L24 6 L18 10 L24 16 L16 18 L10 14 L6 20 L10 28 L4 30 L0 24 Z"/>
<path d="M26 0 H48 L46 8 L40 14 L38 18 L32 10 Z"/>
<path d="M0 34 L8 32 L12 38 L18 36 L22 42 L16 46 L20 50 L10 52 L6 56 L0 56 Z"/>
<path d="M66 2 Q72 -1 79 3 Q78 8 72 9 Q66 7 66 2 Z"/>
<path d="M92 20 Q97 18 98 24 L100 30 Q102 36 98 38 L94 34 L95 28 L91 26 Z"/>
<path d="M88 30 L92 28 L92 36 L88 38 Z"/>
<path d="M94 44 Q100 40 106 42 V60 Q100 62 98 68 L92 60 Q96 52 90 48 Z"/>
<path d="M106 66 V110 H76 Q73 92 82 80 Q92 70 106 66 Z"/>
</g>
<path d="M12 20 L46 26 L97 69 L64 77.5 Z" fill="#35b4ff" filter="url(#eb)" opacity="0.7" transform="translate(-2,3)"/>
<path d="M6 87 L44 52 L60 68 L46 82 Z" fill="#35b4ff" filter="url(#eb)" opacity="0.6" transform="translate(0,3)"/>
<path d="M12 22 L46 27.5 L97 70 L64 78.5 Z" fill="#2b9af0" transform="translate(-1.5,2.5)" opacity="0.8"/>
<path d="M6 87 L44 52 L60 68 L46 82 Z" fill="#c99c00"/>
<path d="M57 35 L66 30 L92 36 L78 52 Z" fill="#c99c00"/>
<path d="M6 87 L44 52 L58 66 L46 80 Z" fill="#ffdf10"/>
<path d="M6 87 L44 52 L46 56 Z" fill="#fff27a"/>
<path d="M58 37 L66 30 L92 36 L76 52 Z" fill="#e9bf08"/>
<path d="M12 20 L46 26 L97 69 L64 77.5 Z" fill="url(#ey)"/>
<path d="M64 77.5 L97 69 L96 72 L65 80 Z" fill="#c99c00"/>
</svg>
<div class="a vao" style="left:5.00px;top:262.50px;width:105.60px;height:23.00px;"></div>
<div class="t" style="top:264.95px;font-size:16.6px;color:#1a1a1a;left:-142.00px;width:400px;text-align:center;">VÀO</div>
<div class="a cuoc" style="left:5.00px;top:290.00px;width:105.60px;height:23.50px;"></div>
<div class="t" style="top:293.55px;font-size:16.6px;color:#2b7195;left:-142.00px;width:400px;text-align:center;letter-spacing:0.35px;">CƯỢC LẠI</div>
<div class="a nm" style="left:5.00px;top:318.00px;width:105.60px;height:26.50px;"></div>
<div class="t" style="top:323.36px;font-size:18.6px;color:#fff;left:-142.00px;width:400px;text-align:center;letter-spacing:-0.3px;-webkit-text-stroke:0.35px #fff;">0:16</div>
<div class="a lt" style="left:5.00px;top:349.00px;width:105.60px;height:26.50px;"></div>
<div class="t" style="top:356.30px;font-size:13px;color:#fff;font-weight:bold;left:-142.00px;width:400px;text-align:center;letter-spacing:-0.2px;">7973455</div>
<svg class="a" style="left:9px;top:357px" width="9" height="12" viewBox="0 0 9 12"><path d="M7.4 0.8 L1.6 6 L7.4 11.2" fill="none" stroke="#fff" stroke-width="1.5"/></svg>
<svg class="a" style="left:98.5px;top:357px" width="9" height="12" viewBox="0 0 9 12"><path d="M1.6 0.8 L7.4 6 L1.6 11.2" fill="none" stroke="#fff" stroke-width="1.5"/></svg>
<div class="ball" style="left:115.50px;top:78.80px">01</div>
<div class="ball" style="left:138.92px;top:78.80px">02</div>
<div class="ball" style="left:162.34px;top:78.80px">03</div>
<div class="ball" style="left:185.76px;top:78.80px">04</div>
<div class="ball" style="left:209.18px;top:78.80px">05</div>
<div class="ball" style="left:232.60px;top:78.80px">06</div>
<div class="ball" style="left:256.02px;top:78.80px">07</div>
<div class="ball" style="left:279.44px;top:78.80px">08</div>
<div class="ball" style="left:302.86px;top:78.80px">09</div>
<div class="ball" style="left:326.28px;top:78.80px">10</div>
<div class="ball" style="left:115.50px;top:102.30px">11</div>
<div class="ball" style="left:138.92px;top:102.30px">12</div>
<div class="ball" style="left:162.34px;top:102.30px">13</div>
<div class="ball" style="left:185.76px;top:102.30px">14</div>
<div class="ball" style="left:209.18px;top:102.30px">15</div>
<div class="ball" style="left:232.60px;top:102.30px">16</div>
<div class="ball" style="left:256.02px;top:102.30px">17</div>
<div class="ball" style="left:279.44px;top:102.30px">18</div>
<div class="ball" style="left:302.86px;top:102.30px">19</div>
<div class="ball" style="left:326.28px;top:102.30px">20</div>
<div class="ball" style="left:115.50px;top:125.80px">21</div>
<div class="ball" style="left:138.92px;top:125.80px">22</div>
<div class="ball" style="left:162.34px;top:125.80px">23</div>
<div class="ball" style="left:185.76px;top:125.80px">24</div>
<div class="ball" style="left:209.18px;top:125.80px">25</div>
<div class="ball" style="left:232.60px;top:125.80px">26</div>
<div class="ball" style="left:256.02px;top:125.80px">27</div>
<div class="ball" style="left:279.44px;top:125.80px">28</div>
<div class="ball" style="left:302.86px;top:125.80px">29</div>
<div class="ball" style="left:326.28px;top:125.80px">30</div>
<div class="ball" style="left:115.50px;top:149.30px">31</div>
<div class="ball" style="left:138.92px;top:149.30px">32</div>
<div class="ball" style="left:162.34px;top:149.30px">33</div>
<div class="ball" style="left:185.76px;top:149.30px">34</div>
<div class="ball" style="left:209.18px;top:149.30px">35</div>
<div class="ball" style="left:232.60px;top:149.30px">36</div>
<div class="ball" style="left:256.02px;top:149.30px">37</div>
<div class="ball" style="left:279.44px;top:149.30px">38</div>
<div class="ball" style="left:302.86px;top:149.30px">39</div>
<div class="ball" style="left:326.28px;top:149.30px">40</div>
<div class="ball" style="left:115.50px;top:172.80px">41</div>
<div class="ball" style="left:138.92px;top:172.80px">42</div>
<div class="ball" style="left:162.34px;top:172.80px">43</div>
<div class="ball" style="left:185.76px;top:172.80px">44</div>
<div class="ball" style="left:209.18px;top:172.80px">45</div>
<div class="ball" style="left:232.60px;top:172.80px">46</div>
<div class="ball" style="left:256.02px;top:172.80px">47</div>
<div class="ball" style="left:279.44px;top:172.80px">48</div>
<div class="ball" style="left:302.86px;top:172.80px">49</div>
<div class="ball" style="left:326.28px;top:172.80px">50</div>
<div class="ball" style="left:115.50px;top:196.30px">51</div>
<div class="ball" style="left:138.92px;top:196.30px">52</div>
<div class="ball" style="left:162.34px;top:196.30px">53</div>
<div class="ball" style="left:185.76px;top:196.30px">54</div>
<div class="ball" style="left:209.18px;top:196.30px">55</div>
<div class="ball" style="left:232.60px;top:196.30px">56</div>
<div class="ball" style="left:256.02px;top:196.30px">57</div>
<div class="ball" style="left:279.44px;top:196.30px">58</div>
<div class="ball" style="left:302.86px;top:196.30px">59</div>
<div class="ball" style="left:326.28px;top:196.30px">60</div>
<div class="ball" style="left:115.50px;top:219.80px">61</div>
<div class="ball" style="left:138.92px;top:219.80px">62</div>
<div class="ball" style="left:162.34px;top:219.80px">63</div>
<div class="ball" style="left:185.76px;top:219.80px">64</div>
<div class="ball" style="left:209.18px;top:219.80px">65</div>
<div class="ball" style="left:232.60px;top:219.80px">66</div>
<div class="ball" style="left:256.02px;top:219.80px">67</div>
<div class="ball" style="left:279.44px;top:219.80px">68</div>
<div class="ball" style="left:302.86px;top:219.80px">69</div>
<div class="ball" style="left:326.28px;top:219.80px">70</div>
<div class="ball" style="left:115.50px;top:243.30px">71</div>
<div class="ball" style="left:138.92px;top:243.30px">72</div>
<div class="ball" style="left:162.34px;top:243.30px">73</div>
<div class="ball" style="left:185.76px;top:243.30px">74</div>
<div class="ball" style="left:209.18px;top:243.30px">75</div>
<div class="ball" style="left:232.60px;top:243.30px">76</div>
<div class="ball" style="left:256.02px;top:243.30px">77</div>
<div class="ball" style="left:279.44px;top:243.30px">78</div>
<div class="ball" style="left:302.86px;top:243.30px">79</div>
<div class="ball" style="left:326.28px;top:243.30px">80</div>
<div class="a" style="left:115.00px;top:271.00px;width:232.00px;height:57.50px;border:1px solid #5a5a5a;"></div>
<div class="t" style="top:275.62px;font-size:12.5px;color:#636363;left:30.50px;width:400px;text-align:center;-webkit-text-stroke:0.25px #636363;">Hệ Thống Chọn Lựa</div>
<svg class="a" style="left:327px;top:275.5px" width="16" height="14" viewBox="0 0 16 14"><path d="M4 6.6 A5.2 5.2 0 1 1 8.6 12.2" fill="none" stroke="#333" stroke-width="2"/><path d="M0.4 4.6 L7.4 5 L3.2 10 Z" fill="#333"/></svg>
<div class="sb" style="left:119.80px;top:295.00px;width:41.60px;height:29.00px;"></div>
<div class="t" style="top:303.23px;font-size:16.5px;color:#fff;font-weight:bold;left:-59.40px;width:400px;text-align:center;">1</div>
<div class="sb" style="left:165.05px;top:295.00px;width:41.60px;height:29.00px;"></div>
<div class="t" style="top:303.23px;font-size:16.5px;color:#fff;font-weight:bold;left:-14.15px;width:400px;text-align:center;">2</div>
<div class="sb" style="left:210.30px;top:295.00px;width:41.60px;height:29.00px;"></div>
<div class="t" style="top:303.23px;font-size:16.5px;color:#fff;font-weight:bold;left:31.10px;width:400px;text-align:center;">3</div>
<div class="sb" style="left:255.55px;top:295.00px;width:41.60px;height:29.00px;"></div>
<div class="t" style="top:303.23px;font-size:16.5px;color:#fff;font-weight:bold;left:76.35px;width:400px;text-align:center;">4</div>
<div class="sb" style="left:300.80px;top:295.00px;width:41.60px;height:29.00px;"></div>
<div class="t" style="top:303.23px;font-size:16.5px;color:#fff;font-weight:bold;left:121.60px;width:400px;text-align:center;">5</div>
<div class="bet" style="left:352.00px;top:79.00px;width:96.00px;height:47.50px;"></div>
<div class="t" style="top:82.80px;font-size:21.5px;color:#fff;left:200.00px;width:400px;text-align:center;z-index:3;">TÀI</div>
<div class="t ods" style="top:110.76px;font-size:12.8px;color:#76c1d5;left:200.00px;width:400px;text-align:center;z-index:3;">1.95</div>
<div class="bet dk" style="left:451.70px;top:79.00px;width:53.00px;height:47.50px;"></div>
<div class="t" style="top:83.58px;font-size:11.6px;color:#fff;font-weight:bold;left:278.50px;width:400px;text-align:center;z-index:3;">HÒA</div>
<div class="t ods" style="top:110.76px;font-size:12.8px;color:#76c1d5;left:278.50px;width:400px;text-align:center;z-index:3;">108</div>
<div class="bet sel" style="left:508.00px;top:79.00px;width:96.00px;height:47.50px;z-index:2;"></div>
<div class="t" style="top:82.80px;font-size:21.5px;color:#fff;left:356.00px;width:400px;text-align:center;z-index:3;">XỈU</div>
<div class="t ods" style="top:110.76px;font-size:12.8px;color:#76c1d5;left:356.00px;width:400px;text-align:center;z-index:3;">1.95</div>
<div class="bet sel" style="left:352.00px;top:129.30px;width:96.00px;height:47.50px;z-index:2;"></div>
<div class="t" style="top:133.66px;font-size:20.6px;color:#fff;left:197.40px;width:400px;text-align:center;z-index:3;">TRÊN</div>
<div class="t ods" style="top:161.06px;font-size:12.8px;color:#76c1d5;left:200.00px;width:400px;text-align:center;z-index:3;">2.3</div>
<div class="bet dk" style="left:451.70px;top:129.30px;width:53.00px;height:47.50px;"></div>
<div class="t" style="top:133.66px;font-size:20.6px;color:#fff;left:278.50px;width:400px;text-align:center;z-index:3;letter-spacing:-0.3px;">HÒA</div>
<div class="t ods" style="top:161.06px;font-size:12.8px;color:#76c1d5;left:278.50px;width:400px;text-align:center;z-index:3;">4.3</div>
<div class="bet" style="left:508.00px;top:129.30px;width:96.00px;height:47.50px;"></div>
<div class="t" style="top:133.66px;font-size:20.6px;color:#fff;left:356.00px;width:400px;text-align:center;z-index:3;">DƯỚI</div>
<div class="t ods" style="top:161.06px;font-size:12.8px;color:#76c1d5;left:356.00px;width:400px;text-align:center;z-index:3;">2.3</div>
<div class="bet" style="left:352.00px;top:180.00px;width:96.00px;height:47.50px;"></div>
<div class="t" style="top:184.13px;font-size:15.2px;color:#fff;left:200.00px;width:400px;text-align:center;z-index:3;">CÁC</div>
<div class="t" style="top:198.13px;font-size:15.2px;color:#fff;left:200.00px;width:400px;text-align:center;z-index:3;">SỐ LẺ</div>
<div class="t ods" style="top:214.16px;font-size:12.8px;color:#76c1d5;left:200.00px;width:400px;text-align:center;z-index:3;">2.3</div>
<div class="bet dk" style="left:451.70px;top:180.00px;width:53.00px;height:47.50px;"></div>
<div class="t" style="top:184.36px;font-size:20.6px;color:#fff;left:278.50px;width:400px;text-align:center;z-index:3;letter-spacing:-0.3px;">HÒA</div>
<div class="t ods" style="top:211.76px;font-size:12.8px;color:#76c1d5;left:278.50px;width:400px;text-align:center;z-index:3;">4.3</div>
<div class="bet sel" style="left:508.00px;top:180.00px;width:96.00px;height:47.50px;z-index:2;"></div>
<div class="t" style="top:184.13px;font-size:15.2px;color:#fff;left:356.00px;width:400px;text-align:center;z-index:3;">CÁC SỐ</div>
<div class="t" style="top:198.13px;font-size:15.2px;color:#fff;left:356.00px;width:400px;text-align:center;z-index:3;">CHẴN</div>
<div class="t ods" style="top:214.16px;font-size:12.8px;color:#76c1d5;left:356.00px;width:400px;text-align:center;z-index:3;">2.3</div>
<div class="bet sel" style="left:352.00px;top:231.00px;width:124.50px;height:47.50px;z-index:2;"></div>
<div class="t" style="top:242.73px;font-size:20.4px;color:#fff;left:355.50px;z-index:3;">LẺ</div>
<div class="t ods" style="top:247.76px;font-size:12.8px;color:#76c1d5;left:72.60px;width:400px;text-align:right;z-index:3;">1.95</div>
<div class="bet" style="left:480.20px;top:231.00px;width:123.80px;height:47.50px;"></div>
<div class="t" style="top:242.73px;font-size:20.4px;color:#fff;left:483.00px;z-index:3;">CHẴN</div>
<div class="t ods" style="top:247.76px;font-size:12.8px;color:#76c1d5;left:200.00px;width:400px;text-align:right;z-index:3;">1.95</div>
<div class="bet" style="left:352.00px;top:282.00px;width:60.50px;height:47.50px;"></div>
<div class="t" style="top:286.32px;font-size:11.2px;color:#fff;font-weight:bold;left:374.20px;z-index:3;letter-spacing:-0.2px;">TÀI</div>
<div class="t" style="top:299.12px;font-size:11.2px;color:#fff;font-weight:bold;left:374.20px;z-index:3;letter-spacing:-0.2px;">LẺ</div>
<div class="t ods" style="top:314.16px;font-size:12.8px;color:#76c1d5;left:182.25px;width:400px;text-align:center;z-index:3;">3.7</div>
<div class="bet sel" style="left:416.20px;top:282.00px;width:60.50px;height:47.50px;z-index:2;"></div>
<div class="t" style="top:286.32px;font-size:11.2px;color:#fff;font-weight:bold;left:437.00px;z-index:3;letter-spacing:-0.2px;">XỈU</div>
<div class="t" style="top:299.12px;font-size:11.2px;color:#fff;font-weight:bold;left:437.00px;z-index:3;letter-spacing:-0.2px;">LẺ</div>
<div class="t ods" style="top:314.16px;font-size:12.8px;color:#76c1d5;left:246.45px;width:400px;text-align:center;z-index:3;">3.7</div>
<div class="bet" style="left:480.20px;top:282.00px;width:60.50px;height:47.50px;"></div>
<div class="t" style="top:286.32px;font-size:11.2px;color:#fff;font-weight:bold;left:494.00px;z-index:3;letter-spacing:-0.2px;">TÀI</div>
<div class="t" style="top:299.12px;font-size:11.2px;color:#fff;font-weight:bold;left:494.00px;z-index:3;letter-spacing:-0.2px;">CHẴN</div>
<div class="t ods" style="top:314.16px;font-size:12.8px;color:#76c1d5;left:310.45px;width:400px;text-align:center;z-index:3;">3.7</div>
<div class="bet" style="left:544.20px;top:282.00px;width:59.80px;height:47.50px;"></div>
<div class="t" style="top:286.32px;font-size:11.2px;color:#fff;font-weight:bold;left:558.00px;z-index:3;letter-spacing:-0.2px;">XỈU</div>
<div class="t" style="top:299.12px;font-size:11.2px;color:#fff;font-weight:bold;left:558.00px;z-index:3;letter-spacing:-0.2px;">CHẴN</div>
<div class="t ods" style="top:314.16px;font-size:12.8px;color:#76c1d5;left:374.10px;width:400px;text-align:center;z-index:3;">3.7</div>
<div class="el sel" style="left:115.00px;top:333.00px;width:93.80px;height:42.60px;z-index:2;"></div>
<div class="t" style="top:337.60px;font-size:18.9px;color:#fff;left:-38.10px;width:400px;text-align:center;z-index:3;-webkit-text-stroke:0.15px #fff;">KIM</div>
<div class="t ods" style="top:359.90px;font-size:12.4px;color:#76c1d5;left:-38.10px;width:400px;text-align:center;z-index:3;">9.2</div>
<div class="el" style="left:213.20px;top:333.00px;width:94.60px;height:42.60px;"></div>
<div class="t" style="top:337.60px;font-size:18.9px;color:#fff;left:60.50px;width:400px;text-align:center;z-index:3;-webkit-text-stroke:0.15px #fff;">MỘC</div>
<div class="t ods" style="top:359.90px;font-size:12.4px;color:#76c1d5;left:60.50px;width:400px;text-align:center;z-index:3;">4.6</div>
<div class="el" style="left:312.20px;top:333.00px;width:94.40px;height:42.60px;"></div>
<div class="t" style="top:337.60px;font-size:18.9px;color:#fff;left:159.40px;width:400px;text-align:center;z-index:3;-webkit-text-stroke:0.15px #fff;">THỦY</div>
<div class="t ods" style="top:359.90px;font-size:12.4px;color:#76c1d5;left:159.40px;width:400px;text-align:center;z-index:3;">2.4</div>
<div class="el" style="left:410.90px;top:333.00px;width:94.60px;height:42.60px;"></div>
<div class="t" style="top:337.60px;font-size:18.9px;color:#fff;left:255.80px;width:400px;text-align:center;z-index:3;-webkit-text-stroke:0.15px #fff;">HỎA</div>
<div class="t ods" style="top:359.90px;font-size:12.4px;color:#76c1d5;left:258.20px;width:400px;text-align:center;z-index:3;">4.6</div>
<div class="el" style="left:509.20px;top:333.00px;width:94.60px;height:42.60px;"></div>
<div class="t" style="top:337.60px;font-size:18.9px;color:#fff;left:356.50px;width:400px;text-align:center;z-index:3;-webkit-text-stroke:0.15px #fff;">THỔ</div>
<div class="t ods" style="top:359.90px;font-size:12.4px;color:#76c1d5;left:356.50px;width:400px;text-align:center;z-index:3;">9.2</div>
<div class="a" style="left:66px;top:379.1px;width:539.2px;height:104.4px;overflow:hidden;background:#e7e7e7"></div>
<svg class="a" style="left:66px;top:379.1px" width="539.6" height="104.6" shape-rendering="auto"><rect x="3.45" y="0" width="1.1" height="104.16" fill="#ababab"/><rect x="20.71" y="0" width="1.1" height="104.16" fill="#ababab"/><rect x="37.97" y="0" width="1.1" height="104.16" fill="#ababab"/><rect x="55.23" y="0" width="1.1" height="104.16" fill="#ababab"/><rect x="72.49" y="0" width="1.1" height="104.16" fill="#ababab"/><rect x="89.75" y="0" width="1.1" height="104.16" fill="#ababab"/><rect x="107.01" y="0" width="1.1" height="104.16" fill="#ababab"/><rect x="124.27" y="0" width="1.1" height="104.16" fill="#ababab"/><rect x="141.53" y="0" width="1.1" height="104.16" fill="#ababab"/><rect x="158.79" y="0" width="1.1" height="104.16" fill="#ababab"/><rect x="176.05" y="0" width="1.1" height="104.16" fill="#ababab"/><rect x="193.31" y="0" width="1.1" height="104.16" fill="#ababab"/><rect x="210.57" y="0" width="1.1" height="104.16" fill="#ababab"/><rect x="227.83" y="0" width="1.1" height="104.16" fill="#ababab"/><rect x="245.09" y="0" width="1.1" height="104.16" fill="#ababab"/><rect x="262.35" y="0" width="1.1" height="104.16" fill="#ababab"/><rect x="279.61" y="0" width="1.1" height="104.16" fill="#ababab"/><rect x="296.87" y="0" width="1.1" height="104.16" fill="#ababab"/><rect x="314.13" y="0" width="1.1" height="104.16" fill="#ababab"/><rect x="331.39" y="0" width="1.1" height="104.16" fill="#ababab"/><rect x="348.65" y="0" width="1.1" height="104.16" fill="#ababab"/><rect x="365.91" y="0" width="1.1" height="104.16" fill="#ababab"/><rect x="383.17" y="0" width="1.1" height="104.16" fill="#ababab"/><rect x="400.43" y="0" width="1.1" height="104.16" fill="#ababab"/><rect x="417.69" y="0" width="1.1" height="104.16" fill="#ababab"/><rect x="434.95" y="0" width="1.1" height="104.16" fill="#ababab"/><rect x="452.21" y="0" width="1.1" height="104.16" fill="#ababab"/><rect x="469.47" y="0" width="1.1" height="104.16" fill="#ababab"/><rect x="486.73" y="0" width="1.1" height="104.16" fill="#ababab"/><rect x="503.99" y="0" width="1.1" height="104.16" fill="#ababab"/><rect x="521.25" y="0" width="1.1" height="104.16" fill="#ababab"/><rect x="538.51" y="0" width="1.1" height="104.16" fill="#ababab"/><rect x="0" y="0.00" width="539.20" height="1.1" fill="#ababab"/><rect x="0" y="16.71" width="539.20" height="1.1" fill="#ababab"/><rect x="0" y="33.97" width="539.20" height="1.1" fill="#ababab"/><rect x="0" y="51.23" width="539.20" height="1.1" fill="#ababab"/><rect x="0" y="68.49" width="539.20" height="1.1" fill="#ababab"/><rect x="0" y="85.75" width="539.20" height="1.1" fill="#ababab"/><rect x="0" y="103.01" width="539.20" height="1.1" fill="#ababab"/></svg>
<div class="t" style="top:417.07px;font-size:25.2px;color:#dadada;left:134.80px;width:400px;text-align:center;">Big Road</div>
<div class="rl" style="left:5.00px;top:379.10px;width:61.00px;height:16.20px;background:#2980aa;"></div>
<div class="t" style="top:380.91px;font-size:14.4px;color:#fff;left:-164.50px;width:400px;text-align:center;letter-spacing:-0.3px;">T/X</div>
<div class="rl" style="left:5.00px;top:396.36px;width:61.00px;height:16.20px;"></div>
<div class="t" style="top:398.17px;font-size:14.4px;color:#fff;left:-164.50px;width:400px;text-align:center;letter-spacing:-0.3px;">L/C</div>
<div class="rl" style="left:5.00px;top:413.62px;width:61.00px;height:16.20px;"></div>
<div class="t" style="top:415.43px;font-size:14.4px;color:#fff;left:-164.50px;width:400px;text-align:center;letter-spacing:-0.3px;">L/H/C</div>
<div class="rl" style="left:5.00px;top:430.88px;width:61.00px;height:16.20px;"></div>
<div class="t" style="top:432.69px;font-size:14.4px;color:#fff;left:-164.50px;width:400px;text-align:center;letter-spacing:-0.3px;">T/H/D</div>
<div class="rl" style="left:5.00px;top:448.14px;width:61.00px;height:16.20px;"></div>
<div class="t" style="top:449.95px;font-size:14.4px;color:#fff;left:-164.50px;width:400px;text-align:center;letter-spacing:-0.3px;">SN</div>
<div class="rl" style="left:5.00px;top:465.40px;width:61.00px;height:16.20px;"></div>
<div class="t" style="top:467.21px;font-size:14.4px;color:#fff;left:-164.50px;width:400px;text-align:center;letter-spacing:-0.3px;">5E</div>
<svg class="a" style="left:60.8px;top:383.5px" width="6" height="9" viewBox="0 0 6 9"><path d="M5.4 0.5 L0.5 4.3 L5.4 8.1 Z" fill="#fff"/></svg>
<svg class="a" style="left:0;top:379.1px" width="610" height="105.6" font-family="Liberation Sans" font-size="12.4" text-anchor="middle" fill="#fff"><clipPath id="cp0439"><rect x="66.2" y="0" width="3.40" height="18"/></clipPath><circle cx="61.37" cy="8.73" r="7.75" fill="#d9222f" clip-path="url(#cp0439)"/></svg>
<div class="a" style="left:66.00px;top:483.60px;width:538.60px;height:14.20px;background:#bdbdbd"></div>
<div class="a" style="left:284.00px;top:483.60px;width:290.00px;height:14.20px;background:#878787"></div>
<svg class="a" style="left:69px;top:485.5px" width="9" height="10" viewBox="0 0 9 10"><path d="M7.6 0.8 L1.8 5 L7.6 9.2" fill="none" stroke="#999" stroke-width="1.8"/></svg>
<svg class="a" style="left:593px;top:485.5px" width="9" height="10" viewBox="0 0 9 10"><path d="M1.4 0.8 L7.2 5 L1.4 9.2" fill="none" stroke="#999" stroke-width="1.8"/></svg>
<svg class="a" style="left:9px;top:485px" width="14" height="13" viewBox="0 0 14 13"><path d="M2.49 4.76 A4.8 4.8 0 0 1 11.70 5.40" fill="none" stroke="#2d2d2d" stroke-width="1.8"/><path d="M11.51 8.04 A4.8 4.8 0 0 1 2.30 7.40" fill="none" stroke="#2d2d2d" stroke-width="1.8"/><path d="M9.40 4.20 L14.20 4.20 L11.80 8.20 Z" fill="#2d2d2d"/><path d="M-0.20 8.60 L4.60 8.60 L2.20 4.60 Z" fill="#2d2d2d"/></svg>
<svg class="a" style="left:31px;top:486.5px" width="11" height="11" viewBox="0 0 11 11"><rect x="0.4" y="6.6" width="2.2" height="4" fill="#2d2d2d"/><rect x="4" y="0.6" width="2.4" height="10" fill="#2d2d2d"/><rect x="7.8" y="4.2" width="2.2" height="6.4" fill="#2d2d2d"/></svg>
<svg class="a" style="left:48.4px;top:485px" width="12" height="10" viewBox="0 0 12 10"><rect x="0.2" y="0.4" width="1.6" height="1.6" fill="#2d2d2d"/><rect x="3" y="0.2" width="2.2" height="2.2" fill="#2d2d2d"/><rect x="6" y="0.2" width="2.2" height="2.2" fill="#2d2d2d"/><rect x="9" y="0.2" width="2.2" height="2.2" fill="#2d2d2d"/><rect x="4.6" y="3.4" width="2.2" height="2.2" fill="#2d2d2d"/><rect x="7.8" y="3.4" width="2.2" height="2.2" fill="#2d2d2d"/><rect x="6" y="6.6" width="2.2" height="2.2" fill="#2d2d2d"/></svg>
</div>
<div class="pn" style="left:614.3px;top:439px">
<div class="a lt" style="left:5.60px;top:78.60px;width:105.00px;height:49.00px;"></div>
<div class="t" style="top:85.66px;font-size:14.7px;color:#fff;left:11.60px;letter-spacing:-0.15px;">ULTRA</div>
<div class="t" style="top:107.66px;font-size:14.7px;color:#fff;left:11.60px;letter-spacing:-0.15px;">KENO</div>
<svg class="a" style="left:89.7px;top:83.3px" width="15" height="15" viewBox="0 0 15 15"><rect width="14" height="14.4" fill="#2681b0"/><path d="M2.8 3 L11.4 11.6 M11.4 3 L2.8 11.6" stroke="#1b5e7f" stroke-width="1.9"/></svg>
<svg class="a" style="left:91.5px;top:111px" width="12" height="8" viewBox="0 0 12 8"><path d="M0.6 1 L5.6 6 L10.6 1" fill="none" stroke="#3ba3dc" stroke-width="1.6"/></svg>
<div class="a nm" style="left:5.60px;top:126.20px;width:105.00px;height:27.30px;"></div>
<div class="t" style="top:132.79px;font-size:15.6px;color:#fff;left:-142.00px;width:400px;text-align:center;letter-spacing:-0.25px;-webkit-text-stroke:0.3px #fff;">12282718</div>
<svg class="a" style="left:5.7000000000000455px;top:153px" width="105" height="110" viewBox="0 0 106 110" preserveAspectRatio="none">
<defs><radialGradient id="ug" cx="50%" cy="55%" r="72%"><stop offset="0" stop-color="#2f9ad0"/><stop offset="0.5" stop-color="#1878ad"/><stop offset="1" stop-color="#064a78"/></radialGradient>
<radialGradient id="uc" cx="50%" cy="62%" r="60%"><stop offset="0" stop-color="#1d86c6"/><stop offset="0.55" stop-color="#0e5f9f"/><stop offset="1" stop-color="#063d78"/></radialGradient>
<linearGradient id="ugold" x1="0" y1="0" x2="1" y2="1"><stop offset="0" stop-color="#f0c348"/><stop offset="0.35" stop-color="#b9861c"/><stop offset="0.6" stop-color="#f3cf5a"/><stop offset="1" stop-color="#a87412"/></linearGradient></defs>
<rect width="106" height="110" fill="url(#ug)"/>
<g fill="none" stroke="#5fb4dc" stroke-width="0.6" opacity="0.45"><circle cx="50" cy="62" r="50"/><circle cx="50" cy="62" r="56"/></g>
<g fill="#9ccde6" opacity="0.6">
<path d="M0 30 L6 24 L14 22 L20 24 L28 20 L36 21 L43 24 L40 30 L44 34 L38 36 L36 42 L30 44 L26 50 L22 58 L16 62 L12 58 L8 64 L4 56 L0 52 Z"/>
<path d="M14 68 L20 66 L27 70 L29 78 L26 86 L22 94 L20 102 L17 98 L16 88 L13 78 Z"/>
<path d="M44 22 L50 20 L52 24 L48 28 Z"/>
<path d="M56 26 L62 22 L66 24 L64 30 L58 32 Z"/>
<path d="M68 28 L74 22 L84 20 L94 22 L100 20 L106 24 V52 L102 58 L100 66 L96 72 L92 68 L90 60 L86 64 L82 58 L78 56 L76 50 L70 46 L72 40 L66 36 Z"/>
<path d="M92 80 L98 78 L106 80 V90 L100 92 L94 88 Z"/>
<path d="M52 82 L58 80 L62 84 L58 90 L54 88 Z"/>
</g>
<g stroke="#e8f4fb" stroke-width="0.8" opacity="0.85"><path d="M10 0 L36 32 M0 66 L24 61 M6 110 L31 80 M96 26 L106 14"/></g>
<circle cx="50" cy="56" r="26.4" fill="#e6f3fa" opacity="0.9"/>
<circle cx="50" cy="56" r="25" fill="url(#uc)"/>
<path d="M26 62 Q50 46 74 62 Q70 80 50 81 Q30 80 26 62 Z" fill="#1a7fba" opacity="0.6"/>
<path d="M37.4 42 H46.4 V60.5 Q46.4 65.4 50.3 65.4 Q54.2 65.4 54.2 60.5 V42 H63.2 V61 Q63.2 72.4 50.3 72.4 Q37.4 72.4 37.4 61 Z" fill="url(#ugold)"/>
<circle cx="96" cy="26.4" r="3.2" fill="#e8f4fb"/><circle cx="96" cy="26.4" r="1.7" fill="#e2b23a"/>
<circle cx="31" cy="80.4" r="3.2" fill="#e8f4fb"/><circle cx="31" cy="80.4" r="1.7" fill="#e2b23a"/>
<circle cx="105.5" cy="87" r="2.6" fill="#e8f4fb"/>
<circle cx="0" cy="52" r="2" fill="#e8f4fb"/>
</svg>
<div class="a vao" style="left:5.60px;top:262.50px;width:105.00px;height:23.00px;"></div>
<div class="t" style="top:264.95px;font-size:16.6px;color:#1a1a1a;left:-142.00px;width:400px;text-align:center;">VÀO</div>
<div class="a cuoc" style="left:5.60px;top:290.00px;width:105.00px;height:23.50px;"></div>
<div class="t" style="top:293.55px;font-size:16.6px;color:#2b7195;left:-142.00px;width:400px;text-align:center;letter-spacing:0.35px;">CƯỢC LẠI</div>
<div class="a nm" style="left:5.60px;top:318.00px;width:105.00px;height:26.50px;"></div>
<div class="t" style="top:323.36px;font-size:18.6px;color:#fff;left:-142.00px;width:400px;text-align:center;letter-spacing:-0.3px;-webkit-text-stroke:0.35px #fff;">0:06</div>
<div class="a lt" style="left:5.60px;top:349.00px;width:105.00px;height:26.50px;"></div>
<div class="t" style="top:356.30px;font-size:13px;color:#fff;font-weight:bold;left:-142.00px;width:400px;text-align:center;letter-spacing:-0.2px;">12282717</div>
<svg class="a" style="left:9px;top:357px" width="9" height="12" viewBox="0 0 9 12"><path d="M7.4 0.8 L1.6 6 L7.4 11.2" fill="none" stroke="#fff" stroke-width="1.5"/></svg>
<svg class="a" style="left:98.5px;top:357px" width="9" height="12" viewBox="0 0 9 12"><path d="M1.6 0.8 L7.4 6 L1.6 11.2" fill="none" stroke="#fff" stroke-width="1.5"/></svg>
<div class="ball" style="left:115.50px;top:78.80px">01</div>
<div class="ball" style="left:138.92px;top:78.80px">02</div>
<div class="ball" style="left:162.34px;top:78.80px">03</div>
<div class="ball" style="left:185.76px;top:78.80px">04</div>
<div class="ball" style="left:209.18px;top:78.80px">05</div>
<div class="ball" style="left:232.60px;top:78.80px">06</div>
<div class="ball" style="left:256.02px;top:78.80px">07</div>
<div class="ball" style="left:279.44px;top:78.80px">08</div>
<div class="ball" style="left:302.86px;top:78.80px">09</div>
<div class="ball" style="left:326.28px;top:78.80px">10</div>
<div class="ball" style="left:115.50px;top:102.30px">11</div>
<div class="ball" style="left:138.92px;top:102.30px">12</div>
<div class="ball" style="left:162.34px;top:102.30px">13</div>
<div class="ball" style="left:185.76px;top:102.30px">14</div>
<div class="ball" style="left:209.18px;top:102.30px">15</div>
<div class="ball" style="left:232.60px;top:102.30px">16</div>
<div class="ball" style="left:256.02px;top:102.30px">17</div>
<div class="ball" style="left:279.44px;top:102.30px">18</div>
<div class="ball" style="left:302.86px;top:102.30px">19</div>
<div class="ball" style="left:326.28px;top:102.30px">20</div>
<div class="ball" style="left:115.50px;top:125.80px">21</div>
<div class="ball" style="left:138.92px;top:125.80px">22</div>
<div class="ball" style="left:162.34px;top:125.80px">23</div>
<div class="ball" style="left:185.76px;top:125.80px">24</div>
<div class="ball" style="left:209.18px;top:125.80px">25</div>
<div class="ball" style="left:232.60px;top:125.80px">26</div>
<div class="ball" style="left:256.02px;top:125.80px">27</div>
<div class="ball" style="left:279.44px;top:125.80px">28</div>
<div class="ball" style="left:302.86px;top:125.80px">29</div>
<div class="ball" style="left:326.28px;top:125.80px">30</div>
<div class="ball" style="left:115.50px;top:149.30px">31</div>
<div class="ball" style="left:138.92px;top:149.30px">32</div>
<div class="ball" style="left:162.34px;top:149.30px">33</div>
<div class="ball" style="left:185.76px;top:149.30px">34</div>
<div class="ball" style="left:209.18px;top:149.30px">35</div>
<div class="ball" style="left:232.60px;top:149.30px">36</div>
<div class="ball" style="left:256.02px;top:149.30px">37</div>
<div class="ball" style="left:279.44px;top:149.30px">38</div>
<div class="ball" style="left:302.86px;top:149.30px">39</div>
<div class="ball" style="left:326.28px;top:149.30px">40</div>
<div class="ball" style="left:115.50px;top:172.80px">41</div>
<div class="ball" style="left:138.92px;top:172.80px">42</div>
<div class="ball" style="left:162.34px;top:172.80px">43</div>
<div class="ball" style="left:185.76px;top:172.80px">44</div>
<div class="ball" style="left:209.18px;top:172.80px">45</div>
<div class="ball" style="left:232.60px;top:172.80px">46</div>
<div class="ball" style="left:256.02px;top:172.80px">47</div>
<div class="ball" style="left:279.44px;top:172.80px">48</div>
<div class="ball" style="left:302.86px;top:172.80px">49</div>
<div class="ball" style="left:326.28px;top:172.80px">50</div>
<div class="ball" style="left:115.50px;top:196.30px">51</div>
<div class="ball" style="left:138.92px;top:196.30px">52</div>
<div class="ball" style="left:162.34px;top:196.30px">53</div>
<div class="ball" style="left:185.76px;top:196.30px">54</div>
<div class="ball" style="left:209.18px;top:196.30px">55</div>
<div class="ball" style="left:232.60px;top:196.30px">56</div>
<div class="ball" style="left:256.02px;top:196.30px">57</div>
<div class="ball" style="left:279.44px;top:196.30px">58</div>
<div class="ball" style="left:302.86px;top:196.30px">59</div>
<div class="ball" style="left:326.28px;top:196.30px">60</div>
<div class="ball" style="left:115.50px;top:219.80px">61</div>
<div class="ball" style="left:138.92px;top:219.80px">62</div>
<div class="ball" style="left:162.34px;top:219.80px">63</div>
<div class="ball" style="left:185.76px;top:219.80px">64</div>
<div class="ball" style="left:209.18px;top:219.80px">65</div>
<div class="ball" style="left:232.60px;top:219.80px">66</div>
<div class="ball" style="left:256.02px;top:219.80px">67</div>
<div class="ball" style="left:279.44px;top:219.80px">68</div>
<div class="ball" style="left:302.86px;top:219.80px">69</div>
<div class="ball" style="left:326.28px;top:219.80px">70</div>
<div class="ball" style="left:115.50px;top:243.30px">71</div>
<div class="ball" style="left:138.92px;top:243.30px">72</div>
<div class="ball" style="left:162.34px;top:243.30px">73</div>
<div class="ball" style="left:185.76px;top:243.30px">74</div>
<div class="ball" style="left:209.18px;top:243.30px">75</div>
<div class="ball" style="left:232.60px;top:243.30px">76</div>
<div class="ball" style="left:256.02px;top:243.30px">77</div>
<div class="ball" style="left:279.44px;top:243.30px">78</div>
<div class="ball" style="left:302.86px;top:243.30px">79</div>
<div class="ball" style="left:326.28px;top:243.30px">80</div>
<div class="a" style="left:115.00px;top:271.00px;width:232.00px;height:57.50px;border:1px solid #5a5a5a;"></div>
<div class="t" style="top:275.62px;font-size:12.5px;color:#636363;left:30.50px;width:400px;text-align:center;-webkit-text-stroke:0.25px #636363;">Hệ Thống Chọn Lựa</div>
<svg class="a" style="left:327px;top:275.5px" width="16" height="14" viewBox="0 0 16 14"><path d="M4 6.6 A5.2 5.2 0 1 1 8.6 12.2" fill="none" stroke="#333" stroke-width="2"/><path d="M0.4 4.6 L7.4 5 L3.2 10 Z" fill="#333"/></svg>
<div class="sb" style="left:119.80px;top:295.00px;width:41.60px;height:29.00px;"></div>
<div class="t" style="top:303.23px;font-size:16.5px;color:#fff;font-weight:bold;left:-59.40px;width:400px;text-align:center;">1</div>
<div class="sb" style="left:165.05px;top:295.00px;width:41.60px;height:29.00px;"></div>
<div class="t" style="top:303.23px;font-size:16.5px;color:#fff;font-weight:bold;left:-14.15px;width:400px;text-align:center;">2</div>
<div class="sb" style="left:210.30px;top:295.00px;width:41.60px;height:29.00px;"></div>
<div class="t" style="top:303.23px;font-size:16.5px;color:#fff;font-weight:bold;left:31.10px;width:400px;text-align:center;">3</div>
<div class="sb" style="left:255.55px;top:295.00px;width:41.60px;height:29.00px;"></div>
<div class="t" style="top:303.23px;font-size:16.5px;color:#fff;font-weight:bold;left:76.35px;width:400px;text-align:center;">4</div>
<div class="sb" style="left:300.80px;top:295.00px;width:41.60px;height:29.00px;"></div>
<div class="t" style="top:303.23px;font-size:16.5px;color:#fff;font-weight:bold;left:121.60px;width:400px;text-align:center;">5</div>
<div class="bet sel" style="left:352.00px;top:79.00px;width:96.00px;height:47.50px;z-index:2;"></div>
<div class="t" style="top:82.80px;font-size:21.5px;color:#fff;left:200.00px;width:400px;text-align:center;z-index:3;">TÀI</div>
<div class="t ods" style="top:110.76px;font-size:12.8px;color:#76c1d5;left:200.00px;width:400px;text-align:center;z-index:3;">1.95</div>
<div class="bet dk" style="left:451.70px;top:79.00px;width:53.00px;height:47.50px;"></div>
<div class="t" style="top:83.58px;font-size:11.6px;color:#fff;font-weight:bold;left:278.50px;width:400px;text-align:center;z-index:3;">HÒA</div>
<div class="t ods" style="top:110.76px;font-size:12.8px;color:#76c1d5;left:278.50px;width:400px;text-align:center;z-index:3;">108</div>
<div class="bet" style="left:508.00px;top:79.00px;width:96.00px;height:47.50px;"></div>
<div class="t" style="top:82.80px;font-size:21.5px;color:#fff;left:356.00px;width:400px;text-align:center;z-index:3;">XỈU</div>
<div class="t ods" style="top:110.76px;font-size:12.8px;color:#76c1d5;left:356.00px;width:400px;text-align:center;z-index:3;">1.95</div>
<div class="bet" style="left:352.00px;top:129.30px;width:96.00px;height:47.50px;"></div>
<div class="t" style="top:133.66px;font-size:20.6px;color:#fff;left:197.40px;width:400px;text-align:center;z-index:3;">TRÊN</div>
<div class="t ods" style="top:161.06px;font-size:12.8px;color:#76c1d5;left:200.00px;width:400px;text-align:center;z-index:3;">2.3</div>
<div class="bet dk sel" style="left:451.70px;top:129.30px;width:53.00px;height:47.50px;z-index:2;"></div>
<div class="t" style="top:133.66px;font-size:20.6px;color:#fff;left:278.50px;width:400px;text-align:center;z-index:3;letter-spacing:-0.3px;">HÒA</div>
<div class="t ods" style="top:161.06px;font-size:12.8px;color:#76c1d5;left:278.50px;width:400px;text-align:center;z-index:3;">4.3</div>
<div class="bet" style="left:508.00px;top:129.30px;width:96.00px;height:47.50px;"></div>
<div class="t" style="top:133.66px;font-size:20.6px;color:#fff;left:356.00px;width:400px;text-align:center;z-index:3;">DƯỚI</div>
<div class="t ods" style="top:161.06px;font-size:12.8px;color:#76c1d5;left:356.00px;width:400px;text-align:center;z-index:3;">2.3</div>
<div class="bet" style="left:352.00px;top:180.00px;width:96.00px;height:47.50px;"></div>
<div class="t" style="top:184.13px;font-size:15.2px;color:#fff;left:200.00px;width:400px;text-align:center;z-index:3;">CÁC</div>
<div class="t" style="top:198.13px;font-size:15.2px;color:#fff;left:200.00px;width:400px;text-align:center;z-index:3;">SỐ LẺ</div>
<div class="t ods" style="top:214.16px;font-size:12.8px;color:#76c1d5;left:200.00px;width:400px;text-align:center;z-index:3;">2.3</div>
<div class="bet dk sel" style="left:451.70px;top:180.00px;width:53.00px;height:47.50px;z-index:2;"></div>
<div class="t" style="top:184.36px;font-size:20.6px;color:#fff;left:278.50px;width:400px;text-align:center;z-index:3;letter-spacing:-0.3px;">HÒA</div>
<div class="t ods" style="top:211.76px;font-size:12.8px;color:#76c1d5;left:278.50px;width:400px;text-align:center;z-index:3;">4.3</div>
<div class="bet" style="left:508.00px;top:180.00px;width:96.00px;height:47.50px;"></div>
<div class="t" style="top:184.13px;font-size:15.2px;color:#fff;left:356.00px;width:400px;text-align:center;z-index:3;">CÁC SỐ</div>
<div class="t" style="top:198.13px;font-size:15.2px;color:#fff;left:356.00px;width:400px;text-align:center;z-index:3;">CHẴN</div>
<div class="t ods" style="top:214.16px;font-size:12.8px;color:#76c1d5;left:356.00px;width:400px;text-align:center;z-index:3;">2.3</div>
<div class="bet" style="left:352.00px;top:231.00px;width:124.50px;height:47.50px;"></div>
<div class="t" style="top:242.73px;font-size:20.4px;color:#fff;left:355.50px;z-index:3;">LẺ</div>
<div class="t ods" style="top:247.76px;font-size:12.8px;color:#76c1d5;left:72.60px;width:400px;text-align:right;z-index:3;">1.95</div>
<div class="bet sel" style="left:480.20px;top:231.00px;width:123.80px;height:47.50px;z-index:2;"></div>
<div class="t" style="top:242.73px;font-size:20.4px;color:#fff;left:483.00px;z-index:3;">CHẴN</div>
<div class="t ods" style="top:247.76px;font-size:12.8px;color:#76c1d5;left:200.00px;width:400px;text-align:right;z-index:3;">1.95</div>
<div class="bet" style="left:352.00px;top:282.00px;width:60.50px;height:47.50px;"></div>
<div class="t" style="top:286.32px;font-size:11.2px;color:#fff;font-weight:bold;left:374.20px;z-index:3;letter-spacing:-0.2px;">TÀI</div>
<div class="t" style="top:299.12px;font-size:11.2px;color:#fff;font-weight:bold;left:374.20px;z-index:3;letter-spacing:-0.2px;">LẺ</div>
<div class="t ods" style="top:314.16px;font-size:12.8px;color:#76c1d5;left:182.25px;width:400px;text-align:center;z-index:3;">3.7</div>
<div class="bet" style="left:416.20px;top:282.00px;width:60.50px;height:47.50px;"></div>
<div class="t" style="top:286.32px;font-size:11.2px;color:#fff;font-weight:bold;left:437.00px;z-index:3;letter-spacing:-0.2px;">XỈU</div>
<div class="t" style="top:299.12px;font-size:11.2px;color:#fff;font-weight:bold;left:437.00px;z-index:3;letter-spacing:-0.2px;">LẺ</div>
<div class="t ods" style="top:314.16px;font-size:12.8px;color:#76c1d5;left:246.45px;width:400px;text-align:center;z-index:3;">3.7</div>
<div class="bet sel" style="left:480.20px;top:282.00px;width:60.50px;height:47.50px;z-index:2;"></div>
<div class="t" style="top:286.32px;font-size:11.2px;color:#fff;font-weight:bold;left:494.00px;z-index:3;letter-spacing:-0.2px;">TÀI</div>
<div class="t" style="top:299.12px;font-size:11.2px;color:#fff;font-weight:bold;left:494.00px;z-index:3;letter-spacing:-0.2px;">CHẴN</div>
<div class="t ods" style="top:314.16px;font-size:12.8px;color:#76c1d5;left:310.45px;width:400px;text-align:center;z-index:3;">3.7</div>
<div class="bet" style="left:544.20px;top:282.00px;width:59.80px;height:47.50px;"></div>
<div class="t" style="top:286.32px;font-size:11.2px;color:#fff;font-weight:bold;left:558.00px;z-index:3;letter-spacing:-0.2px;">XỈU</div>
<div class="t" style="top:299.12px;font-size:11.2px;color:#fff;font-weight:bold;left:558.00px;z-index:3;letter-spacing:-0.2px;">CHẴN</div>
<div class="t ods" style="top:314.16px;font-size:12.8px;color:#76c1d5;left:374.10px;width:400px;text-align:center;z-index:3;">3.7</div>
<div class="el" style="left:115.00px;top:333.00px;width:93.80px;height:42.60px;"></div>
<div class="t" style="top:337.60px;font-size:18.9px;color:#fff;left:-38.10px;width:400px;text-align:center;z-index:3;-webkit-text-stroke:0.15px #fff;">KIM</div>
<div class="t ods" style="top:359.90px;font-size:12.4px;color:#76c1d5;left:-38.10px;width:400px;text-align:center;z-index:3;">9.2</div>
<div class="el" style="left:213.20px;top:333.00px;width:94.60px;height:42.60px;"></div>
<div class="t" style="top:337.60px;font-size:18.9px;color:#fff;left:60.50px;width:400px;text-align:center;z-index:3;-webkit-text-stroke:0.15px #fff;">MỘC</div>
<div class="t ods" style="top:359.90px;font-size:12.4px;color:#76c1d5;left:60.50px;width:400px;text-align:center;z-index:3;">4.6</div>
<div class="el sel" style="left:312.20px;top:333.00px;width:94.40px;height:42.60px;z-index:2;"></div>
<div class="t" style="top:337.60px;font-size:18.9px;color:#fff;left:159.40px;width:400px;text-align:center;z-index:3;-webkit-text-stroke:0.15px #fff;">THỦY</div>
<div class="t ods" style="top:359.90px;font-size:12.4px;color:#76c1d5;left:159.40px;width:400px;text-align:center;z-index:3;">2.4</div>
<div class="el" style="left:410.90px;top:333.00px;width:94.60px;height:42.60px;"></div>
<div class="t" style="top:337.60px;font-size:18.9px;color:#fff;left:255.80px;width:400px;text-align:center;z-index:3;-webkit-text-stroke:0.15px #fff;">HỎA</div>
<div class="t ods" style="top:359.90px;font-size:12.4px;color:#76c1d5;left:258.20px;width:400px;text-align:center;z-index:3;">4.6</div>
<div class="el" style="left:509.20px;top:333.00px;width:94.60px;height:42.60px;"></div>
<div class="t" style="top:337.60px;font-size:18.9px;color:#fff;left:356.50px;width:400px;text-align:center;z-index:3;-webkit-text-stroke:0.15px #fff;">THỔ</div>
<div class="t ods" style="top:359.90px;font-size:12.4px;color:#76c1d5;left:356.50px;width:400px;text-align:center;z-index:3;">9.2</div>
<div class="a" style="left:66px;top:379.1px;width:539.2px;height:104.4px;overflow:hidden;background:#e7e7e7"></div>
<svg class="a" style="left:66px;top:379.1px" width="539.6" height="104.6" shape-rendering="auto"><rect x="3.45" y="0" width="1.1" height="104.16" fill="#ababab"/><rect x="20.71" y="0" width="1.1" height="104.16" fill="#ababab"/><rect x="37.97" y="0" width="1.1" height="104.16" fill="#ababab"/><rect x="55.23" y="0" width="1.1" height="104.16" fill="#ababab"/><rect x="72.49" y="0" width="1.1" height="104.16" fill="#ababab"/><rect x="89.75" y="0" width="1.1" height="104.16" fill="#ababab"/><rect x="107.01" y="0" width="1.1" height="104.16" fill="#ababab"/><rect x="124.27" y="0" width="1.1" height="104.16" fill="#ababab"/><rect x="141.53" y="0" width="1.1" height="104.16" fill="#ababab"/><rect x="158.79" y="0" width="1.1" height="104.16" fill="#ababab"/><rect x="176.05" y="0" width="1.1" height="104.16" fill="#ababab"/><rect x="193.31" y="0" width="1.1" height="104.16" fill="#ababab"/><rect x="210.57" y="0" width="1.1" height="104.16" fill="#ababab"/><rect x="227.83" y="0" width="1.1" height="104.16" fill="#ababab"/><rect x="245.09" y="0" width="1.1" height="104.16" fill="#ababab"/><rect x="262.35" y="0" width="1.1" height="104.16" fill="#ababab"/><rect x="279.61" y="0" width="1.1" height="104.16" fill="#ababab"/><rect x="296.87" y="0" width="1.1" height="104.16" fill="#ababab"/><rect x="314.13" y="0" width="1.1" height="104.16" fill="#ababab"/><rect x="331.39" y="0" width="1.1" height="104.16" fill="#ababab"/><rect x="348.65" y="0" width="1.1" height="104.16" fill="#ababab"/><rect x="365.91" y="0" width="1.1" height="104.16" fill="#ababab"/><rect x="383.17" y="0" width="1.1" height="104.16" fill="#ababab"/><rect x="400.43" y="0" width="1.1" height="104.16" fill="#ababab"/><rect x="417.69" y="0" width="1.1" height="104.16" fill="#ababab"/><rect x="434.95" y="0" width="1.1" height="104.16" fill="#ababab"/><rect x="452.21" y="0" width="1.1" height="104.16" fill="#ababab"/><rect x="469.47" y="0" width="1.1" height="104.16" fill="#ababab"/><rect x="486.73" y="0" width="1.1" height="104.16" fill="#ababab"/><rect x="503.99" y="0" width="1.1" height="104.16" fill="#ababab"/><rect x="521.25" y="0" width="1.1" height="104.16" fill="#ababab"/><rect x="538.51" y="0" width="1.1" height="104.16" fill="#ababab"/><rect x="0" y="0.00" width="539.20" height="1.1" fill="#ababab"/><rect x="0" y="16.71" width="539.20" height="1.1" fill="#ababab"/><rect x="0" y="33.97" width="539.20" height="1.1" fill="#ababab"/><rect x="0" y="51.23" width="539.20" height="1.1" fill="#ababab"/><rect x="0" y="68.49" width="539.20" height="1.1" fill="#ababab"/><rect x="0" y="85.75" width="539.20" height="1.1" fill="#ababab"/><rect x="0" y="103.01" width="539.20" height="1.1" fill="#ababab"/></svg>
<div class="t" style="top:417.07px;font-size:25.2px;color:#dadada;left:134.80px;width:400px;text-align:center;">Big Road</div>
<div class="rl" style="left:5.00px;top:379.10px;width:61.00px;height:16.20px;background:#2980aa;"></div>
<div class="t" style="top:380.91px;font-size:14.4px;color:#fff;left:-164.50px;width:400px;text-align:center;letter-spacing:-0.3px;">T/X</div>
<div class="rl" style="left:5.00px;top:396.36px;width:61.00px;height:16.20px;"></div>
<div class="t" style="top:398.17px;font-size:14.4px;color:#fff;left:-164.50px;width:400px;text-align:center;letter-spacing:-0.3px;">L/C</div>
<div class="rl" style="left:5.00px;top:413.62px;width:61.00px;height:16.20px;"></div>
<div class="t" style="top:415.43px;font-size:14.4px;color:#fff;left:-164.50px;width:400px;text-align:center;letter-spacing:-0.3px;">L/H/C</div>
<div class="rl" style="left:5.00px;top:430.88px;width:61.00px;height:16.20px;"></div>
<div class="t" style="top:432.69px;font-size:14.4px;color:#fff;left:-164.50px;width:400px;text-align:center;letter-spacing:-0.3px;">T/H/D</div>
<div class="rl" style="left:5.00px;top:448.14px;width:61.00px;height:16.20px;"></div>
<div class="t" style="top:449.95px;font-size:14.4px;color:#fff;left:-164.50px;width:400px;text-align:center;letter-spacing:-0.3px;">SN</div>
<div class="rl" style="left:5.00px;top:465.40px;width:61.00px;height:16.20px;"></div>
<div class="t" style="top:467.21px;font-size:14.4px;color:#fff;left:-164.50px;width:400px;text-align:center;letter-spacing:-0.3px;">5E</div>
<svg class="a" style="left:60.8px;top:383.5px" width="6" height="9" viewBox="0 0 6 9"><path d="M5.4 0.5 L0.5 4.3 L5.4 8.1 Z" fill="#fff"/></svg>
<svg class="a" style="left:0;top:379.1px" width="610" height="105.6" font-family="Liberation Sans" font-size="12.4" text-anchor="middle" fill="#fff"><clipPath id="cp614439"><rect x="66.2" y="0" width="3.40" height="18"/></clipPath><circle cx="61.37" cy="8.73" r="7.75" fill="#d9222f" clip-path="url(#cp614439)"/></svg>
<div class="a" style="left:66.00px;top:483.60px;width:538.60px;height:14.20px;background:#bdbdbd"></div>
<div class="a" style="left:284.00px;top:483.60px;width:290.00px;height:14.20px;background:#878787"></div>
<svg class="a" style="left:69px;top:485.5px" width="9" height="10" viewBox="0 0 9 10"><path d="M7.6 0.8 L1.8 5 L7.6 9.2" fill="none" stroke="#999" stroke-width="1.8"/></svg>
<svg class="a" style="left:593px;top:485.5px" width="9" height="10" viewBox="0 0 9 10"><path d="M1.4 0.8 L7.2 5 L1.4 9.2" fill="none" stroke="#999" stroke-width="1.8"/></svg>
<svg class="a" style="left:9px;top:485px" width="14" height="13" viewBox="0 0 14 13"><path d="M2.49 4.76 A4.8 4.8 0 0 1 11.70 5.40" fill="none" stroke="#2d2d2d" stroke-width="1.8"/><path d="M11.51 8.04 A4.8 4.8 0 0 1 2.30 7.40" fill="none" stroke="#2d2d2d" stroke-width="1.8"/><path d="M9.40 4.20 L14.20 4.20 L11.80 8.20 Z" fill="#2d2d2d"/><path d="M-0.20 8.60 L4.60 8.60 L2.20 4.60 Z" fill="#2d2d2d"/></svg>
<svg class="a" style="left:31px;top:486.5px" width="11" height="11" viewBox="0 0 11 11"><rect x="0.4" y="6.6" width="2.2" height="4" fill="#2d2d2d"/><rect x="4" y="0.6" width="2.4" height="10" fill="#2d2d2d"/><rect x="7.8" y="4.2" width="2.2" height="6.4" fill="#2d2d2d"/></svg>
<svg class="a" style="left:48.4px;top:485px" width="12" height="10" viewBox="0 0 12 10"><rect x="0.2" y="0.4" width="1.6" height="1.6" fill="#2d2d2d"/><rect x="3" y="0.2" width="2.2" height="2.2" fill="#2d2d2d"/><rect x="6" y="0.2" width="2.2" height="2.2" fill="#2d2d2d"/><rect x="9" y="0.2" width="2.2" height="2.2" fill="#2d2d2d"/><rect x="4.6" y="3.4" width="2.2" height="2.2" fill="#2d2d2d"/><rect x="7.8" y="3.4" width="2.2" height="2.2" fill="#2d2d2d"/><rect x="6" y="6.6" width="2.2" height="2.2" fill="#2d2d2d"/></svg>
</div>
</div></body></html>
